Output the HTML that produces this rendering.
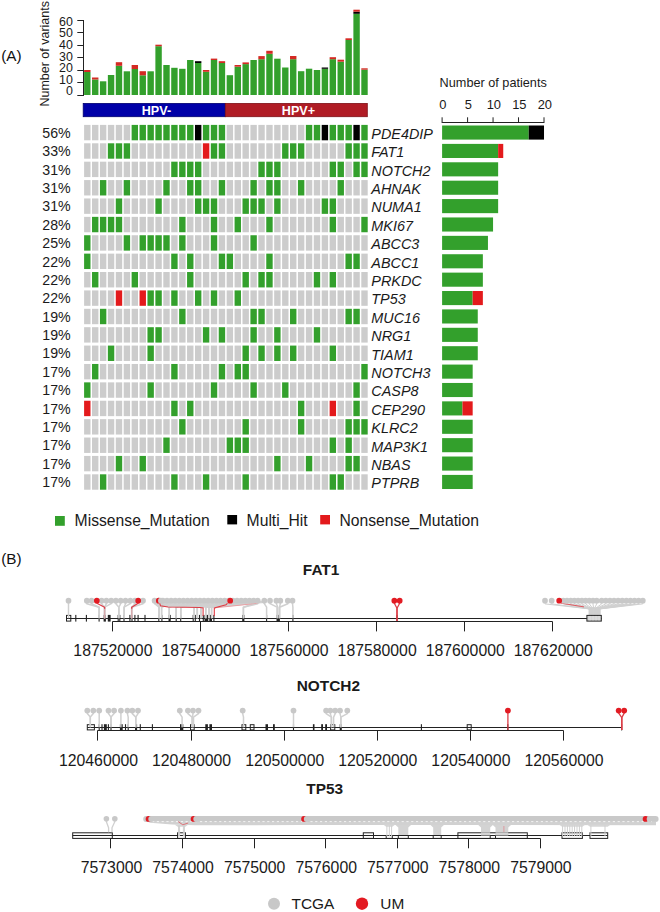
<!DOCTYPE html>
<html><head><meta charset="utf-8"><style>
html,body{margin:0;padding:0;background:#fff;}
svg{display:block;font-family:"Liberation Sans",sans-serif;}
</style></head><body>
<svg width="660" height="912" viewBox="0 0 660 912">
<rect width="660" height="912" fill="#fff"/>
<text x="1.20" y="61.40" font-size="15.3" text-anchor="start" font-weight="normal" font-style="normal" fill="#111">(A)</text>
<text x="0" y="0" font-size="12.5" fill="#1a1a1a" transform="translate(49.4,106.6) rotate(-90)">Number of variants</text>
<line x1="83.50" y1="20.00" x2="83.50" y2="96.00" stroke="#222" stroke-width="1"/>
<line x1="77.30" y1="95.50" x2="84.00" y2="95.50" stroke="#222" stroke-width="1"/>
<text x="0.00" y="0.00" font-size="12.4" text-anchor="end" font-weight="normal" font-style="normal" fill="#1a1a1a" transform="translate(72.8,95.40) scale(1,1.07)">0</text>
<line x1="77.30" y1="82.50" x2="84.00" y2="82.50" stroke="#222" stroke-width="1"/>
<text x="0.00" y="0.00" font-size="12.4" text-anchor="end" font-weight="normal" font-style="normal" fill="#1a1a1a" transform="translate(72.8,83.80) scale(1,1.07)">10</text>
<line x1="77.30" y1="70.50" x2="84.00" y2="70.50" stroke="#222" stroke-width="1"/>
<text x="0.00" y="0.00" font-size="12.4" text-anchor="end" font-weight="normal" font-style="normal" fill="#1a1a1a" transform="translate(72.8,72.20) scale(1,1.07)">20</text>
<line x1="77.30" y1="57.50" x2="84.00" y2="57.50" stroke="#222" stroke-width="1"/>
<text x="0.00" y="0.00" font-size="12.4" text-anchor="end" font-weight="normal" font-style="normal" fill="#1a1a1a" transform="translate(72.8,60.60) scale(1,1.07)">30</text>
<line x1="77.30" y1="45.50" x2="84.00" y2="45.50" stroke="#222" stroke-width="1"/>
<text x="0.00" y="0.00" font-size="12.4" text-anchor="end" font-weight="normal" font-style="normal" fill="#1a1a1a" transform="translate(72.8,49.00) scale(1,1.07)">40</text>
<line x1="77.30" y1="32.50" x2="84.00" y2="32.50" stroke="#222" stroke-width="1"/>
<text x="0.00" y="0.00" font-size="12.4" text-anchor="end" font-weight="normal" font-style="normal" fill="#1a1a1a" transform="translate(72.8,37.40) scale(1,1.07)">50</text>
<line x1="77.30" y1="20.50" x2="84.00" y2="20.50" stroke="#222" stroke-width="1"/>
<text x="0.00" y="0.00" font-size="12.4" text-anchor="end" font-weight="normal" font-style="normal" fill="#1a1a1a" transform="translate(72.8,25.80) scale(1,1.07)">60</text>
<rect x="84.10" y="72.00" width="6.40" height="23.00" fill="#33A02C"/>
<rect x="84.10" y="70.00" width="6.40" height="2.00" fill="#D42A24"/>
<rect x="92.02" y="79.50" width="6.40" height="15.50" fill="#33A02C"/>
<rect x="92.02" y="77.50" width="6.40" height="2.00" fill="#D42A24"/>
<rect x="99.94" y="81.30" width="6.40" height="13.70" fill="#33A02C"/>
<rect x="107.86" y="75.00" width="6.40" height="20.00" fill="#33A02C"/>
<rect x="115.78" y="65.80" width="6.40" height="29.20" fill="#33A02C"/>
<rect x="115.78" y="62.20" width="6.40" height="3.60" fill="#D42A24"/>
<rect x="123.70" y="71.30" width="6.40" height="23.70" fill="#33A02C"/>
<rect x="131.62" y="69.00" width="6.40" height="26.00" fill="#33A02C"/>
<rect x="131.62" y="65.00" width="6.40" height="4.00" fill="#D42A24"/>
<rect x="139.54" y="75.30" width="6.40" height="19.70" fill="#33A02C"/>
<rect x="139.54" y="71.20" width="6.40" height="4.10" fill="#D42A24"/>
<rect x="147.46" y="71.30" width="6.40" height="23.70" fill="#33A02C"/>
<rect x="155.38" y="46.20" width="6.40" height="48.80" fill="#33A02C"/>
<rect x="155.38" y="44.70" width="6.40" height="1.50" fill="#D42A24"/>
<rect x="163.30" y="65.00" width="6.40" height="30.00" fill="#33A02C"/>
<rect x="171.22" y="67.80" width="6.40" height="27.20" fill="#33A02C"/>
<rect x="179.14" y="68.80" width="6.40" height="26.20" fill="#33A02C"/>
<rect x="187.06" y="60.00" width="6.40" height="35.00" fill="#33A02C"/>
<rect x="194.98" y="63.00" width="6.40" height="32.00" fill="#33A02C"/>
<rect x="194.98" y="61.20" width="6.40" height="1.80" fill="#000000"/>
<rect x="202.90" y="71.80" width="6.40" height="23.20" fill="#33A02C"/>
<rect x="202.90" y="70.00" width="6.40" height="1.80" fill="#D42A24"/>
<rect x="210.82" y="60.00" width="6.40" height="35.00" fill="#33A02C"/>
<rect x="210.82" y="58.60" width="6.40" height="1.40" fill="#D42A24"/>
<rect x="218.74" y="63.00" width="6.40" height="32.00" fill="#33A02C"/>
<rect x="218.74" y="61.20" width="6.40" height="1.80" fill="#D42A24"/>
<rect x="226.66" y="75.20" width="6.40" height="19.80" fill="#33A02C"/>
<rect x="234.58" y="66.70" width="6.40" height="28.30" fill="#33A02C"/>
<rect x="234.58" y="65.00" width="6.40" height="1.70" fill="#D42A24"/>
<rect x="242.50" y="64.10" width="6.40" height="30.90" fill="#33A02C"/>
<rect x="242.50" y="62.40" width="6.40" height="1.70" fill="#D42A24"/>
<rect x="250.42" y="60.00" width="6.40" height="35.00" fill="#33A02C"/>
<rect x="258.34" y="59.20" width="6.40" height="35.80" fill="#33A02C"/>
<rect x="258.34" y="56.10" width="6.40" height="3.10" fill="#D42A24"/>
<rect x="266.26" y="53.80" width="6.40" height="41.20" fill="#33A02C"/>
<rect x="266.26" y="50.80" width="6.40" height="3.00" fill="#D42A24"/>
<rect x="274.18" y="58.70" width="6.40" height="36.30" fill="#33A02C"/>
<rect x="282.10" y="67.50" width="6.40" height="27.50" fill="#33A02C"/>
<rect x="290.02" y="59.20" width="6.40" height="35.80" fill="#33A02C"/>
<rect x="290.02" y="56.00" width="6.40" height="3.20" fill="#D42A24"/>
<rect x="297.94" y="71.20" width="6.40" height="23.80" fill="#33A02C"/>
<rect x="305.86" y="68.70" width="6.40" height="26.30" fill="#33A02C"/>
<rect x="313.78" y="70.00" width="6.40" height="25.00" fill="#33A02C"/>
<rect x="321.70" y="68.80" width="6.40" height="26.20" fill="#33A02C"/>
<rect x="321.70" y="67.50" width="6.40" height="1.30" fill="#000000"/>
<rect x="329.62" y="59.20" width="6.40" height="35.80" fill="#33A02C"/>
<rect x="329.62" y="57.20" width="6.40" height="2.00" fill="#D42A24"/>
<rect x="337.54" y="61.70" width="6.40" height="33.30" fill="#33A02C"/>
<rect x="337.54" y="59.70" width="6.40" height="2.00" fill="#D42A24"/>
<rect x="345.46" y="40.00" width="6.40" height="55.00" fill="#33A02C"/>
<rect x="345.46" y="38.30" width="6.40" height="1.70" fill="#D42A24"/>
<rect x="353.38" y="13.80" width="6.40" height="81.20" fill="#33A02C"/>
<rect x="353.38" y="11.70" width="6.40" height="2.10" fill="#000000"/>
<rect x="353.38" y="9.70" width="6.40" height="2.00" fill="#D42A24"/>
<rect x="361.30" y="69.70" width="6.40" height="25.30" fill="#33A02C"/>
<rect x="361.30" y="68.30" width="6.40" height="1.40" fill="#D42A24"/>
<rect x="83.20" y="103.40" width="142.10" height="13.30" fill="#0000A8" stroke="#00006E" stroke-width="0.8"/>
<rect x="225.30" y="103.40" width="142.00" height="13.30" fill="#B01C25" stroke="#7E1218" stroke-width="0.8"/>
<text x="0.00" y="0.00" font-size="12.6" text-anchor="middle" font-weight="bold" font-style="normal" fill="#ffffff" transform="translate(156.45,114.7) scale(1,1.05)">HPV-</text>
<text x="0.00" y="0.00" font-size="12.6" text-anchor="middle" font-weight="bold" font-style="normal" fill="#ffffff" transform="translate(298.40,114.7) scale(1,1.05)">HPV+</text>
<rect x="84.10" y="124.90" width="6.40" height="15.40" fill="#CCCCCC"/>
<rect x="92.02" y="124.90" width="6.40" height="15.40" fill="#CCCCCC"/>
<rect x="99.94" y="124.90" width="6.40" height="15.40" fill="#CCCCCC"/>
<rect x="107.86" y="124.90" width="6.40" height="15.40" fill="#CCCCCC"/>
<rect x="115.78" y="124.90" width="6.40" height="15.40" fill="#CCCCCC"/>
<rect x="123.70" y="124.90" width="6.40" height="15.40" fill="#CCCCCC"/>
<rect x="131.62" y="124.90" width="6.40" height="15.40" fill="#33A02C"/>
<rect x="139.54" y="124.90" width="6.40" height="15.40" fill="#33A02C"/>
<rect x="147.46" y="124.90" width="6.40" height="15.40" fill="#33A02C"/>
<rect x="155.38" y="124.90" width="6.40" height="15.40" fill="#33A02C"/>
<rect x="163.30" y="124.90" width="6.40" height="15.40" fill="#33A02C"/>
<rect x="171.22" y="124.90" width="6.40" height="15.40" fill="#33A02C"/>
<rect x="179.14" y="124.90" width="6.40" height="15.40" fill="#33A02C"/>
<rect x="187.06" y="124.90" width="6.40" height="15.40" fill="#33A02C"/>
<rect x="194.98" y="124.90" width="6.40" height="15.40" fill="#000000"/>
<rect x="202.90" y="124.90" width="6.40" height="15.40" fill="#33A02C"/>
<rect x="210.82" y="124.90" width="6.40" height="15.40" fill="#33A02C"/>
<rect x="218.74" y="124.90" width="6.40" height="15.40" fill="#33A02C"/>
<rect x="226.66" y="124.90" width="6.40" height="15.40" fill="#CCCCCC"/>
<rect x="234.58" y="124.90" width="6.40" height="15.40" fill="#CCCCCC"/>
<rect x="242.50" y="124.90" width="6.40" height="15.40" fill="#CCCCCC"/>
<rect x="250.42" y="124.90" width="6.40" height="15.40" fill="#CCCCCC"/>
<rect x="258.34" y="124.90" width="6.40" height="15.40" fill="#CCCCCC"/>
<rect x="266.26" y="124.90" width="6.40" height="15.40" fill="#CCCCCC"/>
<rect x="274.18" y="124.90" width="6.40" height="15.40" fill="#CCCCCC"/>
<rect x="282.10" y="124.90" width="6.40" height="15.40" fill="#CCCCCC"/>
<rect x="290.02" y="124.90" width="6.40" height="15.40" fill="#CCCCCC"/>
<rect x="297.94" y="124.90" width="6.40" height="15.40" fill="#CCCCCC"/>
<rect x="305.86" y="124.90" width="6.40" height="15.40" fill="#33A02C"/>
<rect x="313.78" y="124.90" width="6.40" height="15.40" fill="#33A02C"/>
<rect x="321.70" y="124.90" width="6.40" height="15.40" fill="#000000"/>
<rect x="329.62" y="124.90" width="6.40" height="15.40" fill="#33A02C"/>
<rect x="337.54" y="124.90" width="6.40" height="15.40" fill="#33A02C"/>
<rect x="345.46" y="124.90" width="6.40" height="15.40" fill="#33A02C"/>
<rect x="353.38" y="124.90" width="6.40" height="15.40" fill="#000000"/>
<rect x="361.30" y="124.90" width="6.40" height="15.40" fill="#33A02C"/>
<text x="42.30" y="137.80" font-size="14.2" text-anchor="start" font-weight="normal" font-style="normal" fill="#1a1a1a">56%</text>
<text x="371.30" y="138.90" font-size="14.4" text-anchor="start" font-weight="normal" font-style="italic" fill="#1a1a1a">PDE4DIP</text>
<rect x="84.10" y="143.29" width="6.40" height="15.40" fill="#CCCCCC"/>
<rect x="92.02" y="143.29" width="6.40" height="15.40" fill="#CCCCCC"/>
<rect x="99.94" y="143.29" width="6.40" height="15.40" fill="#CCCCCC"/>
<rect x="107.86" y="143.29" width="6.40" height="15.40" fill="#33A02C"/>
<rect x="115.78" y="143.29" width="6.40" height="15.40" fill="#33A02C"/>
<rect x="123.70" y="143.29" width="6.40" height="15.40" fill="#33A02C"/>
<rect x="131.62" y="143.29" width="6.40" height="15.40" fill="#CCCCCC"/>
<rect x="139.54" y="143.29" width="6.40" height="15.40" fill="#CCCCCC"/>
<rect x="147.46" y="143.29" width="6.40" height="15.40" fill="#CCCCCC"/>
<rect x="155.38" y="143.29" width="6.40" height="15.40" fill="#CCCCCC"/>
<rect x="163.30" y="143.29" width="6.40" height="15.40" fill="#CCCCCC"/>
<rect x="171.22" y="143.29" width="6.40" height="15.40" fill="#CCCCCC"/>
<rect x="179.14" y="143.29" width="6.40" height="15.40" fill="#CCCCCC"/>
<rect x="187.06" y="143.29" width="6.40" height="15.40" fill="#CCCCCC"/>
<rect x="194.98" y="143.29" width="6.40" height="15.40" fill="#CCCCCC"/>
<rect x="202.90" y="143.29" width="6.40" height="15.40" fill="#E31A1C"/>
<rect x="210.82" y="143.29" width="6.40" height="15.40" fill="#33A02C"/>
<rect x="218.74" y="143.29" width="6.40" height="15.40" fill="#33A02C"/>
<rect x="226.66" y="143.29" width="6.40" height="15.40" fill="#CCCCCC"/>
<rect x="234.58" y="143.29" width="6.40" height="15.40" fill="#CCCCCC"/>
<rect x="242.50" y="143.29" width="6.40" height="15.40" fill="#CCCCCC"/>
<rect x="250.42" y="143.29" width="6.40" height="15.40" fill="#CCCCCC"/>
<rect x="258.34" y="143.29" width="6.40" height="15.40" fill="#CCCCCC"/>
<rect x="266.26" y="143.29" width="6.40" height="15.40" fill="#CCCCCC"/>
<rect x="274.18" y="143.29" width="6.40" height="15.40" fill="#CCCCCC"/>
<rect x="282.10" y="143.29" width="6.40" height="15.40" fill="#33A02C"/>
<rect x="290.02" y="143.29" width="6.40" height="15.40" fill="#33A02C"/>
<rect x="297.94" y="143.29" width="6.40" height="15.40" fill="#33A02C"/>
<rect x="305.86" y="143.29" width="6.40" height="15.40" fill="#CCCCCC"/>
<rect x="313.78" y="143.29" width="6.40" height="15.40" fill="#CCCCCC"/>
<rect x="321.70" y="143.29" width="6.40" height="15.40" fill="#CCCCCC"/>
<rect x="329.62" y="143.29" width="6.40" height="15.40" fill="#CCCCCC"/>
<rect x="337.54" y="143.29" width="6.40" height="15.40" fill="#CCCCCC"/>
<rect x="345.46" y="143.29" width="6.40" height="15.40" fill="#33A02C"/>
<rect x="353.38" y="143.29" width="6.40" height="15.40" fill="#33A02C"/>
<rect x="361.30" y="143.29" width="6.40" height="15.40" fill="#33A02C"/>
<text x="42.30" y="156.19" font-size="14.2" text-anchor="start" font-weight="normal" font-style="normal" fill="#1a1a1a">33%</text>
<text x="371.30" y="157.29" font-size="14.4" text-anchor="start" font-weight="normal" font-style="italic" fill="#1a1a1a">FAT1</text>
<rect x="84.10" y="161.68" width="6.40" height="15.40" fill="#CCCCCC"/>
<rect x="92.02" y="161.68" width="6.40" height="15.40" fill="#CCCCCC"/>
<rect x="99.94" y="161.68" width="6.40" height="15.40" fill="#CCCCCC"/>
<rect x="107.86" y="161.68" width="6.40" height="15.40" fill="#CCCCCC"/>
<rect x="115.78" y="161.68" width="6.40" height="15.40" fill="#CCCCCC"/>
<rect x="123.70" y="161.68" width="6.40" height="15.40" fill="#CCCCCC"/>
<rect x="131.62" y="161.68" width="6.40" height="15.40" fill="#CCCCCC"/>
<rect x="139.54" y="161.68" width="6.40" height="15.40" fill="#CCCCCC"/>
<rect x="147.46" y="161.68" width="6.40" height="15.40" fill="#CCCCCC"/>
<rect x="155.38" y="161.68" width="6.40" height="15.40" fill="#CCCCCC"/>
<rect x="163.30" y="161.68" width="6.40" height="15.40" fill="#CCCCCC"/>
<rect x="171.22" y="161.68" width="6.40" height="15.40" fill="#33A02C"/>
<rect x="179.14" y="161.68" width="6.40" height="15.40" fill="#33A02C"/>
<rect x="187.06" y="161.68" width="6.40" height="15.40" fill="#33A02C"/>
<rect x="194.98" y="161.68" width="6.40" height="15.40" fill="#33A02C"/>
<rect x="202.90" y="161.68" width="6.40" height="15.40" fill="#CCCCCC"/>
<rect x="210.82" y="161.68" width="6.40" height="15.40" fill="#CCCCCC"/>
<rect x="218.74" y="161.68" width="6.40" height="15.40" fill="#CCCCCC"/>
<rect x="226.66" y="161.68" width="6.40" height="15.40" fill="#CCCCCC"/>
<rect x="234.58" y="161.68" width="6.40" height="15.40" fill="#CCCCCC"/>
<rect x="242.50" y="161.68" width="6.40" height="15.40" fill="#CCCCCC"/>
<rect x="250.42" y="161.68" width="6.40" height="15.40" fill="#CCCCCC"/>
<rect x="258.34" y="161.68" width="6.40" height="15.40" fill="#33A02C"/>
<rect x="266.26" y="161.68" width="6.40" height="15.40" fill="#33A02C"/>
<rect x="274.18" y="161.68" width="6.40" height="15.40" fill="#33A02C"/>
<rect x="282.10" y="161.68" width="6.40" height="15.40" fill="#CCCCCC"/>
<rect x="290.02" y="161.68" width="6.40" height="15.40" fill="#CCCCCC"/>
<rect x="297.94" y="161.68" width="6.40" height="15.40" fill="#CCCCCC"/>
<rect x="305.86" y="161.68" width="6.40" height="15.40" fill="#CCCCCC"/>
<rect x="313.78" y="161.68" width="6.40" height="15.40" fill="#CCCCCC"/>
<rect x="321.70" y="161.68" width="6.40" height="15.40" fill="#CCCCCC"/>
<rect x="329.62" y="161.68" width="6.40" height="15.40" fill="#33A02C"/>
<rect x="337.54" y="161.68" width="6.40" height="15.40" fill="#33A02C"/>
<rect x="345.46" y="161.68" width="6.40" height="15.40" fill="#CCCCCC"/>
<rect x="353.38" y="161.68" width="6.40" height="15.40" fill="#33A02C"/>
<rect x="361.30" y="161.68" width="6.40" height="15.40" fill="#33A02C"/>
<text x="42.30" y="174.58" font-size="14.2" text-anchor="start" font-weight="normal" font-style="normal" fill="#1a1a1a">31%</text>
<text x="371.30" y="175.68" font-size="14.4" text-anchor="start" font-weight="normal" font-style="italic" fill="#1a1a1a">NOTCH2</text>
<rect x="84.10" y="180.07" width="6.40" height="15.40" fill="#CCCCCC"/>
<rect x="92.02" y="180.07" width="6.40" height="15.40" fill="#CCCCCC"/>
<rect x="99.94" y="180.07" width="6.40" height="15.40" fill="#33A02C"/>
<rect x="107.86" y="180.07" width="6.40" height="15.40" fill="#CCCCCC"/>
<rect x="115.78" y="180.07" width="6.40" height="15.40" fill="#CCCCCC"/>
<rect x="123.70" y="180.07" width="6.40" height="15.40" fill="#33A02C"/>
<rect x="131.62" y="180.07" width="6.40" height="15.40" fill="#CCCCCC"/>
<rect x="139.54" y="180.07" width="6.40" height="15.40" fill="#CCCCCC"/>
<rect x="147.46" y="180.07" width="6.40" height="15.40" fill="#CCCCCC"/>
<rect x="155.38" y="180.07" width="6.40" height="15.40" fill="#CCCCCC"/>
<rect x="163.30" y="180.07" width="6.40" height="15.40" fill="#33A02C"/>
<rect x="171.22" y="180.07" width="6.40" height="15.40" fill="#CCCCCC"/>
<rect x="179.14" y="180.07" width="6.40" height="15.40" fill="#CCCCCC"/>
<rect x="187.06" y="180.07" width="6.40" height="15.40" fill="#33A02C"/>
<rect x="194.98" y="180.07" width="6.40" height="15.40" fill="#33A02C"/>
<rect x="202.90" y="180.07" width="6.40" height="15.40" fill="#CCCCCC"/>
<rect x="210.82" y="180.07" width="6.40" height="15.40" fill="#CCCCCC"/>
<rect x="218.74" y="180.07" width="6.40" height="15.40" fill="#33A02C"/>
<rect x="226.66" y="180.07" width="6.40" height="15.40" fill="#CCCCCC"/>
<rect x="234.58" y="180.07" width="6.40" height="15.40" fill="#CCCCCC"/>
<rect x="242.50" y="180.07" width="6.40" height="15.40" fill="#CCCCCC"/>
<rect x="250.42" y="180.07" width="6.40" height="15.40" fill="#33A02C"/>
<rect x="258.34" y="180.07" width="6.40" height="15.40" fill="#CCCCCC"/>
<rect x="266.26" y="180.07" width="6.40" height="15.40" fill="#33A02C"/>
<rect x="274.18" y="180.07" width="6.40" height="15.40" fill="#33A02C"/>
<rect x="282.10" y="180.07" width="6.40" height="15.40" fill="#CCCCCC"/>
<rect x="290.02" y="180.07" width="6.40" height="15.40" fill="#CCCCCC"/>
<rect x="297.94" y="180.07" width="6.40" height="15.40" fill="#33A02C"/>
<rect x="305.86" y="180.07" width="6.40" height="15.40" fill="#CCCCCC"/>
<rect x="313.78" y="180.07" width="6.40" height="15.40" fill="#CCCCCC"/>
<rect x="321.70" y="180.07" width="6.40" height="15.40" fill="#CCCCCC"/>
<rect x="329.62" y="180.07" width="6.40" height="15.40" fill="#CCCCCC"/>
<rect x="337.54" y="180.07" width="6.40" height="15.40" fill="#33A02C"/>
<rect x="345.46" y="180.07" width="6.40" height="15.40" fill="#CCCCCC"/>
<rect x="353.38" y="180.07" width="6.40" height="15.40" fill="#CCCCCC"/>
<rect x="361.30" y="180.07" width="6.40" height="15.40" fill="#CCCCCC"/>
<text x="42.30" y="192.97" font-size="14.2" text-anchor="start" font-weight="normal" font-style="normal" fill="#1a1a1a">31%</text>
<text x="371.30" y="194.07" font-size="14.4" text-anchor="start" font-weight="normal" font-style="italic" fill="#1a1a1a">AHNAK</text>
<rect x="84.10" y="198.46" width="6.40" height="15.40" fill="#CCCCCC"/>
<rect x="92.02" y="198.46" width="6.40" height="15.40" fill="#CCCCCC"/>
<rect x="99.94" y="198.46" width="6.40" height="15.40" fill="#CCCCCC"/>
<rect x="107.86" y="198.46" width="6.40" height="15.40" fill="#CCCCCC"/>
<rect x="115.78" y="198.46" width="6.40" height="15.40" fill="#33A02C"/>
<rect x="123.70" y="198.46" width="6.40" height="15.40" fill="#CCCCCC"/>
<rect x="131.62" y="198.46" width="6.40" height="15.40" fill="#CCCCCC"/>
<rect x="139.54" y="198.46" width="6.40" height="15.40" fill="#CCCCCC"/>
<rect x="147.46" y="198.46" width="6.40" height="15.40" fill="#CCCCCC"/>
<rect x="155.38" y="198.46" width="6.40" height="15.40" fill="#33A02C"/>
<rect x="163.30" y="198.46" width="6.40" height="15.40" fill="#CCCCCC"/>
<rect x="171.22" y="198.46" width="6.40" height="15.40" fill="#CCCCCC"/>
<rect x="179.14" y="198.46" width="6.40" height="15.40" fill="#CCCCCC"/>
<rect x="187.06" y="198.46" width="6.40" height="15.40" fill="#CCCCCC"/>
<rect x="194.98" y="198.46" width="6.40" height="15.40" fill="#33A02C"/>
<rect x="202.90" y="198.46" width="6.40" height="15.40" fill="#33A02C"/>
<rect x="210.82" y="198.46" width="6.40" height="15.40" fill="#33A02C"/>
<rect x="218.74" y="198.46" width="6.40" height="15.40" fill="#CCCCCC"/>
<rect x="226.66" y="198.46" width="6.40" height="15.40" fill="#CCCCCC"/>
<rect x="234.58" y="198.46" width="6.40" height="15.40" fill="#CCCCCC"/>
<rect x="242.50" y="198.46" width="6.40" height="15.40" fill="#33A02C"/>
<rect x="250.42" y="198.46" width="6.40" height="15.40" fill="#33A02C"/>
<rect x="258.34" y="198.46" width="6.40" height="15.40" fill="#33A02C"/>
<rect x="266.26" y="198.46" width="6.40" height="15.40" fill="#CCCCCC"/>
<rect x="274.18" y="198.46" width="6.40" height="15.40" fill="#33A02C"/>
<rect x="282.10" y="198.46" width="6.40" height="15.40" fill="#CCCCCC"/>
<rect x="290.02" y="198.46" width="6.40" height="15.40" fill="#CCCCCC"/>
<rect x="297.94" y="198.46" width="6.40" height="15.40" fill="#CCCCCC"/>
<rect x="305.86" y="198.46" width="6.40" height="15.40" fill="#CCCCCC"/>
<rect x="313.78" y="198.46" width="6.40" height="15.40" fill="#CCCCCC"/>
<rect x="321.70" y="198.46" width="6.40" height="15.40" fill="#33A02C"/>
<rect x="329.62" y="198.46" width="6.40" height="15.40" fill="#33A02C"/>
<rect x="337.54" y="198.46" width="6.40" height="15.40" fill="#CCCCCC"/>
<rect x="345.46" y="198.46" width="6.40" height="15.40" fill="#CCCCCC"/>
<rect x="353.38" y="198.46" width="6.40" height="15.40" fill="#CCCCCC"/>
<rect x="361.30" y="198.46" width="6.40" height="15.40" fill="#CCCCCC"/>
<text x="42.30" y="211.36" font-size="14.2" text-anchor="start" font-weight="normal" font-style="normal" fill="#1a1a1a">31%</text>
<text x="371.30" y="212.46" font-size="14.4" text-anchor="start" font-weight="normal" font-style="italic" fill="#1a1a1a">NUMA1</text>
<rect x="84.10" y="216.85" width="6.40" height="15.40" fill="#CCCCCC"/>
<rect x="92.02" y="216.85" width="6.40" height="15.40" fill="#33A02C"/>
<rect x="99.94" y="216.85" width="6.40" height="15.40" fill="#33A02C"/>
<rect x="107.86" y="216.85" width="6.40" height="15.40" fill="#33A02C"/>
<rect x="115.78" y="216.85" width="6.40" height="15.40" fill="#33A02C"/>
<rect x="123.70" y="216.85" width="6.40" height="15.40" fill="#CCCCCC"/>
<rect x="131.62" y="216.85" width="6.40" height="15.40" fill="#CCCCCC"/>
<rect x="139.54" y="216.85" width="6.40" height="15.40" fill="#CCCCCC"/>
<rect x="147.46" y="216.85" width="6.40" height="15.40" fill="#CCCCCC"/>
<rect x="155.38" y="216.85" width="6.40" height="15.40" fill="#CCCCCC"/>
<rect x="163.30" y="216.85" width="6.40" height="15.40" fill="#CCCCCC"/>
<rect x="171.22" y="216.85" width="6.40" height="15.40" fill="#CCCCCC"/>
<rect x="179.14" y="216.85" width="6.40" height="15.40" fill="#33A02C"/>
<rect x="187.06" y="216.85" width="6.40" height="15.40" fill="#CCCCCC"/>
<rect x="194.98" y="216.85" width="6.40" height="15.40" fill="#CCCCCC"/>
<rect x="202.90" y="216.85" width="6.40" height="15.40" fill="#CCCCCC"/>
<rect x="210.82" y="216.85" width="6.40" height="15.40" fill="#33A02C"/>
<rect x="218.74" y="216.85" width="6.40" height="15.40" fill="#CCCCCC"/>
<rect x="226.66" y="216.85" width="6.40" height="15.40" fill="#CCCCCC"/>
<rect x="234.58" y="216.85" width="6.40" height="15.40" fill="#33A02C"/>
<rect x="242.50" y="216.85" width="6.40" height="15.40" fill="#CCCCCC"/>
<rect x="250.42" y="216.85" width="6.40" height="15.40" fill="#CCCCCC"/>
<rect x="258.34" y="216.85" width="6.40" height="15.40" fill="#CCCCCC"/>
<rect x="266.26" y="216.85" width="6.40" height="15.40" fill="#33A02C"/>
<rect x="274.18" y="216.85" width="6.40" height="15.40" fill="#CCCCCC"/>
<rect x="282.10" y="216.85" width="6.40" height="15.40" fill="#CCCCCC"/>
<rect x="290.02" y="216.85" width="6.40" height="15.40" fill="#CCCCCC"/>
<rect x="297.94" y="216.85" width="6.40" height="15.40" fill="#CCCCCC"/>
<rect x="305.86" y="216.85" width="6.40" height="15.40" fill="#CCCCCC"/>
<rect x="313.78" y="216.85" width="6.40" height="15.40" fill="#CCCCCC"/>
<rect x="321.70" y="216.85" width="6.40" height="15.40" fill="#CCCCCC"/>
<rect x="329.62" y="216.85" width="6.40" height="15.40" fill="#33A02C"/>
<rect x="337.54" y="216.85" width="6.40" height="15.40" fill="#CCCCCC"/>
<rect x="345.46" y="216.85" width="6.40" height="15.40" fill="#CCCCCC"/>
<rect x="353.38" y="216.85" width="6.40" height="15.40" fill="#CCCCCC"/>
<rect x="361.30" y="216.85" width="6.40" height="15.40" fill="#33A02C"/>
<text x="42.30" y="229.75" font-size="14.2" text-anchor="start" font-weight="normal" font-style="normal" fill="#1a1a1a">28%</text>
<text x="371.30" y="230.85" font-size="14.4" text-anchor="start" font-weight="normal" font-style="italic" fill="#1a1a1a">MKI67</text>
<rect x="84.10" y="235.24" width="6.40" height="15.40" fill="#33A02C"/>
<rect x="92.02" y="235.24" width="6.40" height="15.40" fill="#CCCCCC"/>
<rect x="99.94" y="235.24" width="6.40" height="15.40" fill="#CCCCCC"/>
<rect x="107.86" y="235.24" width="6.40" height="15.40" fill="#CCCCCC"/>
<rect x="115.78" y="235.24" width="6.40" height="15.40" fill="#CCCCCC"/>
<rect x="123.70" y="235.24" width="6.40" height="15.40" fill="#33A02C"/>
<rect x="131.62" y="235.24" width="6.40" height="15.40" fill="#CCCCCC"/>
<rect x="139.54" y="235.24" width="6.40" height="15.40" fill="#33A02C"/>
<rect x="147.46" y="235.24" width="6.40" height="15.40" fill="#33A02C"/>
<rect x="155.38" y="235.24" width="6.40" height="15.40" fill="#33A02C"/>
<rect x="163.30" y="235.24" width="6.40" height="15.40" fill="#33A02C"/>
<rect x="171.22" y="235.24" width="6.40" height="15.40" fill="#CCCCCC"/>
<rect x="179.14" y="235.24" width="6.40" height="15.40" fill="#33A02C"/>
<rect x="187.06" y="235.24" width="6.40" height="15.40" fill="#CCCCCC"/>
<rect x="194.98" y="235.24" width="6.40" height="15.40" fill="#CCCCCC"/>
<rect x="202.90" y="235.24" width="6.40" height="15.40" fill="#CCCCCC"/>
<rect x="210.82" y="235.24" width="6.40" height="15.40" fill="#33A02C"/>
<rect x="218.74" y="235.24" width="6.40" height="15.40" fill="#CCCCCC"/>
<rect x="226.66" y="235.24" width="6.40" height="15.40" fill="#CCCCCC"/>
<rect x="234.58" y="235.24" width="6.40" height="15.40" fill="#CCCCCC"/>
<rect x="242.50" y="235.24" width="6.40" height="15.40" fill="#CCCCCC"/>
<rect x="250.42" y="235.24" width="6.40" height="15.40" fill="#33A02C"/>
<rect x="258.34" y="235.24" width="6.40" height="15.40" fill="#CCCCCC"/>
<rect x="266.26" y="235.24" width="6.40" height="15.40" fill="#CCCCCC"/>
<rect x="274.18" y="235.24" width="6.40" height="15.40" fill="#CCCCCC"/>
<rect x="282.10" y="235.24" width="6.40" height="15.40" fill="#CCCCCC"/>
<rect x="290.02" y="235.24" width="6.40" height="15.40" fill="#CCCCCC"/>
<rect x="297.94" y="235.24" width="6.40" height="15.40" fill="#CCCCCC"/>
<rect x="305.86" y="235.24" width="6.40" height="15.40" fill="#CCCCCC"/>
<rect x="313.78" y="235.24" width="6.40" height="15.40" fill="#CCCCCC"/>
<rect x="321.70" y="235.24" width="6.40" height="15.40" fill="#CCCCCC"/>
<rect x="329.62" y="235.24" width="6.40" height="15.40" fill="#CCCCCC"/>
<rect x="337.54" y="235.24" width="6.40" height="15.40" fill="#CCCCCC"/>
<rect x="345.46" y="235.24" width="6.40" height="15.40" fill="#CCCCCC"/>
<rect x="353.38" y="235.24" width="6.40" height="15.40" fill="#CCCCCC"/>
<rect x="361.30" y="235.24" width="6.40" height="15.40" fill="#CCCCCC"/>
<text x="42.30" y="248.14" font-size="14.2" text-anchor="start" font-weight="normal" font-style="normal" fill="#1a1a1a">25%</text>
<text x="371.30" y="249.24" font-size="14.4" text-anchor="start" font-weight="normal" font-style="italic" fill="#1a1a1a">ABCC3</text>
<rect x="84.10" y="253.63" width="6.40" height="15.40" fill="#33A02C"/>
<rect x="92.02" y="253.63" width="6.40" height="15.40" fill="#CCCCCC"/>
<rect x="99.94" y="253.63" width="6.40" height="15.40" fill="#CCCCCC"/>
<rect x="107.86" y="253.63" width="6.40" height="15.40" fill="#CCCCCC"/>
<rect x="115.78" y="253.63" width="6.40" height="15.40" fill="#CCCCCC"/>
<rect x="123.70" y="253.63" width="6.40" height="15.40" fill="#CCCCCC"/>
<rect x="131.62" y="253.63" width="6.40" height="15.40" fill="#CCCCCC"/>
<rect x="139.54" y="253.63" width="6.40" height="15.40" fill="#CCCCCC"/>
<rect x="147.46" y="253.63" width="6.40" height="15.40" fill="#CCCCCC"/>
<rect x="155.38" y="253.63" width="6.40" height="15.40" fill="#CCCCCC"/>
<rect x="163.30" y="253.63" width="6.40" height="15.40" fill="#CCCCCC"/>
<rect x="171.22" y="253.63" width="6.40" height="15.40" fill="#33A02C"/>
<rect x="179.14" y="253.63" width="6.40" height="15.40" fill="#CCCCCC"/>
<rect x="187.06" y="253.63" width="6.40" height="15.40" fill="#33A02C"/>
<rect x="194.98" y="253.63" width="6.40" height="15.40" fill="#CCCCCC"/>
<rect x="202.90" y="253.63" width="6.40" height="15.40" fill="#CCCCCC"/>
<rect x="210.82" y="253.63" width="6.40" height="15.40" fill="#CCCCCC"/>
<rect x="218.74" y="253.63" width="6.40" height="15.40" fill="#33A02C"/>
<rect x="226.66" y="253.63" width="6.40" height="15.40" fill="#33A02C"/>
<rect x="234.58" y="253.63" width="6.40" height="15.40" fill="#CCCCCC"/>
<rect x="242.50" y="253.63" width="6.40" height="15.40" fill="#CCCCCC"/>
<rect x="250.42" y="253.63" width="6.40" height="15.40" fill="#CCCCCC"/>
<rect x="258.34" y="253.63" width="6.40" height="15.40" fill="#CCCCCC"/>
<rect x="266.26" y="253.63" width="6.40" height="15.40" fill="#33A02C"/>
<rect x="274.18" y="253.63" width="6.40" height="15.40" fill="#CCCCCC"/>
<rect x="282.10" y="253.63" width="6.40" height="15.40" fill="#CCCCCC"/>
<rect x="290.02" y="253.63" width="6.40" height="15.40" fill="#CCCCCC"/>
<rect x="297.94" y="253.63" width="6.40" height="15.40" fill="#CCCCCC"/>
<rect x="305.86" y="253.63" width="6.40" height="15.40" fill="#CCCCCC"/>
<rect x="313.78" y="253.63" width="6.40" height="15.40" fill="#CCCCCC"/>
<rect x="321.70" y="253.63" width="6.40" height="15.40" fill="#CCCCCC"/>
<rect x="329.62" y="253.63" width="6.40" height="15.40" fill="#CCCCCC"/>
<rect x="337.54" y="253.63" width="6.40" height="15.40" fill="#CCCCCC"/>
<rect x="345.46" y="253.63" width="6.40" height="15.40" fill="#33A02C"/>
<rect x="353.38" y="253.63" width="6.40" height="15.40" fill="#33A02C"/>
<rect x="361.30" y="253.63" width="6.40" height="15.40" fill="#CCCCCC"/>
<text x="42.30" y="266.53" font-size="14.2" text-anchor="start" font-weight="normal" font-style="normal" fill="#1a1a1a">22%</text>
<text x="371.30" y="267.63" font-size="14.4" text-anchor="start" font-weight="normal" font-style="italic" fill="#1a1a1a">ABCC1</text>
<rect x="84.10" y="272.02" width="6.40" height="15.40" fill="#CCCCCC"/>
<rect x="92.02" y="272.02" width="6.40" height="15.40" fill="#33A02C"/>
<rect x="99.94" y="272.02" width="6.40" height="15.40" fill="#CCCCCC"/>
<rect x="107.86" y="272.02" width="6.40" height="15.40" fill="#CCCCCC"/>
<rect x="115.78" y="272.02" width="6.40" height="15.40" fill="#CCCCCC"/>
<rect x="123.70" y="272.02" width="6.40" height="15.40" fill="#CCCCCC"/>
<rect x="131.62" y="272.02" width="6.40" height="15.40" fill="#33A02C"/>
<rect x="139.54" y="272.02" width="6.40" height="15.40" fill="#CCCCCC"/>
<rect x="147.46" y="272.02" width="6.40" height="15.40" fill="#CCCCCC"/>
<rect x="155.38" y="272.02" width="6.40" height="15.40" fill="#CCCCCC"/>
<rect x="163.30" y="272.02" width="6.40" height="15.40" fill="#CCCCCC"/>
<rect x="171.22" y="272.02" width="6.40" height="15.40" fill="#CCCCCC"/>
<rect x="179.14" y="272.02" width="6.40" height="15.40" fill="#CCCCCC"/>
<rect x="187.06" y="272.02" width="6.40" height="15.40" fill="#33A02C"/>
<rect x="194.98" y="272.02" width="6.40" height="15.40" fill="#CCCCCC"/>
<rect x="202.90" y="272.02" width="6.40" height="15.40" fill="#CCCCCC"/>
<rect x="210.82" y="272.02" width="6.40" height="15.40" fill="#CCCCCC"/>
<rect x="218.74" y="272.02" width="6.40" height="15.40" fill="#CCCCCC"/>
<rect x="226.66" y="272.02" width="6.40" height="15.40" fill="#CCCCCC"/>
<rect x="234.58" y="272.02" width="6.40" height="15.40" fill="#CCCCCC"/>
<rect x="242.50" y="272.02" width="6.40" height="15.40" fill="#33A02C"/>
<rect x="250.42" y="272.02" width="6.40" height="15.40" fill="#CCCCCC"/>
<rect x="258.34" y="272.02" width="6.40" height="15.40" fill="#33A02C"/>
<rect x="266.26" y="272.02" width="6.40" height="15.40" fill="#33A02C"/>
<rect x="274.18" y="272.02" width="6.40" height="15.40" fill="#CCCCCC"/>
<rect x="282.10" y="272.02" width="6.40" height="15.40" fill="#CCCCCC"/>
<rect x="290.02" y="272.02" width="6.40" height="15.40" fill="#CCCCCC"/>
<rect x="297.94" y="272.02" width="6.40" height="15.40" fill="#CCCCCC"/>
<rect x="305.86" y="272.02" width="6.40" height="15.40" fill="#CCCCCC"/>
<rect x="313.78" y="272.02" width="6.40" height="15.40" fill="#33A02C"/>
<rect x="321.70" y="272.02" width="6.40" height="15.40" fill="#CCCCCC"/>
<rect x="329.62" y="272.02" width="6.40" height="15.40" fill="#33A02C"/>
<rect x="337.54" y="272.02" width="6.40" height="15.40" fill="#CCCCCC"/>
<rect x="345.46" y="272.02" width="6.40" height="15.40" fill="#CCCCCC"/>
<rect x="353.38" y="272.02" width="6.40" height="15.40" fill="#CCCCCC"/>
<rect x="361.30" y="272.02" width="6.40" height="15.40" fill="#CCCCCC"/>
<text x="42.30" y="284.92" font-size="14.2" text-anchor="start" font-weight="normal" font-style="normal" fill="#1a1a1a">22%</text>
<text x="371.30" y="286.02" font-size="14.4" text-anchor="start" font-weight="normal" font-style="italic" fill="#1a1a1a">PRKDC</text>
<rect x="84.10" y="290.41" width="6.40" height="15.40" fill="#CCCCCC"/>
<rect x="92.02" y="290.41" width="6.40" height="15.40" fill="#CCCCCC"/>
<rect x="99.94" y="290.41" width="6.40" height="15.40" fill="#CCCCCC"/>
<rect x="107.86" y="290.41" width="6.40" height="15.40" fill="#CCCCCC"/>
<rect x="115.78" y="290.41" width="6.40" height="15.40" fill="#E31A1C"/>
<rect x="123.70" y="290.41" width="6.40" height="15.40" fill="#CCCCCC"/>
<rect x="131.62" y="290.41" width="6.40" height="15.40" fill="#CCCCCC"/>
<rect x="139.54" y="290.41" width="6.40" height="15.40" fill="#E31A1C"/>
<rect x="147.46" y="290.41" width="6.40" height="15.40" fill="#33A02C"/>
<rect x="155.38" y="290.41" width="6.40" height="15.40" fill="#33A02C"/>
<rect x="163.30" y="290.41" width="6.40" height="15.40" fill="#CCCCCC"/>
<rect x="171.22" y="290.41" width="6.40" height="15.40" fill="#33A02C"/>
<rect x="179.14" y="290.41" width="6.40" height="15.40" fill="#CCCCCC"/>
<rect x="187.06" y="290.41" width="6.40" height="15.40" fill="#CCCCCC"/>
<rect x="194.98" y="290.41" width="6.40" height="15.40" fill="#33A02C"/>
<rect x="202.90" y="290.41" width="6.40" height="15.40" fill="#CCCCCC"/>
<rect x="210.82" y="290.41" width="6.40" height="15.40" fill="#33A02C"/>
<rect x="218.74" y="290.41" width="6.40" height="15.40" fill="#CCCCCC"/>
<rect x="226.66" y="290.41" width="6.40" height="15.40" fill="#CCCCCC"/>
<rect x="234.58" y="290.41" width="6.40" height="15.40" fill="#33A02C"/>
<rect x="242.50" y="290.41" width="6.40" height="15.40" fill="#CCCCCC"/>
<rect x="250.42" y="290.41" width="6.40" height="15.40" fill="#CCCCCC"/>
<rect x="258.34" y="290.41" width="6.40" height="15.40" fill="#CCCCCC"/>
<rect x="266.26" y="290.41" width="6.40" height="15.40" fill="#CCCCCC"/>
<rect x="274.18" y="290.41" width="6.40" height="15.40" fill="#CCCCCC"/>
<rect x="282.10" y="290.41" width="6.40" height="15.40" fill="#CCCCCC"/>
<rect x="290.02" y="290.41" width="6.40" height="15.40" fill="#CCCCCC"/>
<rect x="297.94" y="290.41" width="6.40" height="15.40" fill="#CCCCCC"/>
<rect x="305.86" y="290.41" width="6.40" height="15.40" fill="#CCCCCC"/>
<rect x="313.78" y="290.41" width="6.40" height="15.40" fill="#CCCCCC"/>
<rect x="321.70" y="290.41" width="6.40" height="15.40" fill="#CCCCCC"/>
<rect x="329.62" y="290.41" width="6.40" height="15.40" fill="#CCCCCC"/>
<rect x="337.54" y="290.41" width="6.40" height="15.40" fill="#CCCCCC"/>
<rect x="345.46" y="290.41" width="6.40" height="15.40" fill="#CCCCCC"/>
<rect x="353.38" y="290.41" width="6.40" height="15.40" fill="#CCCCCC"/>
<rect x="361.30" y="290.41" width="6.40" height="15.40" fill="#CCCCCC"/>
<text x="42.30" y="303.31" font-size="14.2" text-anchor="start" font-weight="normal" font-style="normal" fill="#1a1a1a">22%</text>
<text x="371.30" y="304.41" font-size="14.4" text-anchor="start" font-weight="normal" font-style="italic" fill="#1a1a1a">TP53</text>
<rect x="84.10" y="308.80" width="6.40" height="15.40" fill="#CCCCCC"/>
<rect x="92.02" y="308.80" width="6.40" height="15.40" fill="#CCCCCC"/>
<rect x="99.94" y="308.80" width="6.40" height="15.40" fill="#33A02C"/>
<rect x="107.86" y="308.80" width="6.40" height="15.40" fill="#CCCCCC"/>
<rect x="115.78" y="308.80" width="6.40" height="15.40" fill="#CCCCCC"/>
<rect x="123.70" y="308.80" width="6.40" height="15.40" fill="#CCCCCC"/>
<rect x="131.62" y="308.80" width="6.40" height="15.40" fill="#CCCCCC"/>
<rect x="139.54" y="308.80" width="6.40" height="15.40" fill="#CCCCCC"/>
<rect x="147.46" y="308.80" width="6.40" height="15.40" fill="#CCCCCC"/>
<rect x="155.38" y="308.80" width="6.40" height="15.40" fill="#CCCCCC"/>
<rect x="163.30" y="308.80" width="6.40" height="15.40" fill="#CCCCCC"/>
<rect x="171.22" y="308.80" width="6.40" height="15.40" fill="#CCCCCC"/>
<rect x="179.14" y="308.80" width="6.40" height="15.40" fill="#33A02C"/>
<rect x="187.06" y="308.80" width="6.40" height="15.40" fill="#CCCCCC"/>
<rect x="194.98" y="308.80" width="6.40" height="15.40" fill="#CCCCCC"/>
<rect x="202.90" y="308.80" width="6.40" height="15.40" fill="#CCCCCC"/>
<rect x="210.82" y="308.80" width="6.40" height="15.40" fill="#CCCCCC"/>
<rect x="218.74" y="308.80" width="6.40" height="15.40" fill="#CCCCCC"/>
<rect x="226.66" y="308.80" width="6.40" height="15.40" fill="#CCCCCC"/>
<rect x="234.58" y="308.80" width="6.40" height="15.40" fill="#CCCCCC"/>
<rect x="242.50" y="308.80" width="6.40" height="15.40" fill="#CCCCCC"/>
<rect x="250.42" y="308.80" width="6.40" height="15.40" fill="#33A02C"/>
<rect x="258.34" y="308.80" width="6.40" height="15.40" fill="#33A02C"/>
<rect x="266.26" y="308.80" width="6.40" height="15.40" fill="#CCCCCC"/>
<rect x="274.18" y="308.80" width="6.40" height="15.40" fill="#CCCCCC"/>
<rect x="282.10" y="308.80" width="6.40" height="15.40" fill="#CCCCCC"/>
<rect x="290.02" y="308.80" width="6.40" height="15.40" fill="#33A02C"/>
<rect x="297.94" y="308.80" width="6.40" height="15.40" fill="#CCCCCC"/>
<rect x="305.86" y="308.80" width="6.40" height="15.40" fill="#CCCCCC"/>
<rect x="313.78" y="308.80" width="6.40" height="15.40" fill="#CCCCCC"/>
<rect x="321.70" y="308.80" width="6.40" height="15.40" fill="#CCCCCC"/>
<rect x="329.62" y="308.80" width="6.40" height="15.40" fill="#CCCCCC"/>
<rect x="337.54" y="308.80" width="6.40" height="15.40" fill="#CCCCCC"/>
<rect x="345.46" y="308.80" width="6.40" height="15.40" fill="#33A02C"/>
<rect x="353.38" y="308.80" width="6.40" height="15.40" fill="#33A02C"/>
<rect x="361.30" y="308.80" width="6.40" height="15.40" fill="#CCCCCC"/>
<text x="42.30" y="321.70" font-size="14.2" text-anchor="start" font-weight="normal" font-style="normal" fill="#1a1a1a">19%</text>
<text x="371.30" y="322.80" font-size="14.4" text-anchor="start" font-weight="normal" font-style="italic" fill="#1a1a1a">MUC16</text>
<rect x="84.10" y="327.19" width="6.40" height="15.40" fill="#CCCCCC"/>
<rect x="92.02" y="327.19" width="6.40" height="15.40" fill="#CCCCCC"/>
<rect x="99.94" y="327.19" width="6.40" height="15.40" fill="#CCCCCC"/>
<rect x="107.86" y="327.19" width="6.40" height="15.40" fill="#CCCCCC"/>
<rect x="115.78" y="327.19" width="6.40" height="15.40" fill="#CCCCCC"/>
<rect x="123.70" y="327.19" width="6.40" height="15.40" fill="#CCCCCC"/>
<rect x="131.62" y="327.19" width="6.40" height="15.40" fill="#CCCCCC"/>
<rect x="139.54" y="327.19" width="6.40" height="15.40" fill="#CCCCCC"/>
<rect x="147.46" y="327.19" width="6.40" height="15.40" fill="#33A02C"/>
<rect x="155.38" y="327.19" width="6.40" height="15.40" fill="#33A02C"/>
<rect x="163.30" y="327.19" width="6.40" height="15.40" fill="#CCCCCC"/>
<rect x="171.22" y="327.19" width="6.40" height="15.40" fill="#CCCCCC"/>
<rect x="179.14" y="327.19" width="6.40" height="15.40" fill="#CCCCCC"/>
<rect x="187.06" y="327.19" width="6.40" height="15.40" fill="#CCCCCC"/>
<rect x="194.98" y="327.19" width="6.40" height="15.40" fill="#CCCCCC"/>
<rect x="202.90" y="327.19" width="6.40" height="15.40" fill="#33A02C"/>
<rect x="210.82" y="327.19" width="6.40" height="15.40" fill="#CCCCCC"/>
<rect x="218.74" y="327.19" width="6.40" height="15.40" fill="#33A02C"/>
<rect x="226.66" y="327.19" width="6.40" height="15.40" fill="#CCCCCC"/>
<rect x="234.58" y="327.19" width="6.40" height="15.40" fill="#CCCCCC"/>
<rect x="242.50" y="327.19" width="6.40" height="15.40" fill="#CCCCCC"/>
<rect x="250.42" y="327.19" width="6.40" height="15.40" fill="#33A02C"/>
<rect x="258.34" y="327.19" width="6.40" height="15.40" fill="#CCCCCC"/>
<rect x="266.26" y="327.19" width="6.40" height="15.40" fill="#CCCCCC"/>
<rect x="274.18" y="327.19" width="6.40" height="15.40" fill="#33A02C"/>
<rect x="282.10" y="327.19" width="6.40" height="15.40" fill="#CCCCCC"/>
<rect x="290.02" y="327.19" width="6.40" height="15.40" fill="#CCCCCC"/>
<rect x="297.94" y="327.19" width="6.40" height="15.40" fill="#CCCCCC"/>
<rect x="305.86" y="327.19" width="6.40" height="15.40" fill="#CCCCCC"/>
<rect x="313.78" y="327.19" width="6.40" height="15.40" fill="#33A02C"/>
<rect x="321.70" y="327.19" width="6.40" height="15.40" fill="#CCCCCC"/>
<rect x="329.62" y="327.19" width="6.40" height="15.40" fill="#CCCCCC"/>
<rect x="337.54" y="327.19" width="6.40" height="15.40" fill="#CCCCCC"/>
<rect x="345.46" y="327.19" width="6.40" height="15.40" fill="#CCCCCC"/>
<rect x="353.38" y="327.19" width="6.40" height="15.40" fill="#CCCCCC"/>
<rect x="361.30" y="327.19" width="6.40" height="15.40" fill="#CCCCCC"/>
<text x="42.30" y="340.09" font-size="14.2" text-anchor="start" font-weight="normal" font-style="normal" fill="#1a1a1a">19%</text>
<text x="371.30" y="341.19" font-size="14.4" text-anchor="start" font-weight="normal" font-style="italic" fill="#1a1a1a">NRG1</text>
<rect x="84.10" y="345.58" width="6.40" height="15.40" fill="#CCCCCC"/>
<rect x="92.02" y="345.58" width="6.40" height="15.40" fill="#CCCCCC"/>
<rect x="99.94" y="345.58" width="6.40" height="15.40" fill="#CCCCCC"/>
<rect x="107.86" y="345.58" width="6.40" height="15.40" fill="#33A02C"/>
<rect x="115.78" y="345.58" width="6.40" height="15.40" fill="#CCCCCC"/>
<rect x="123.70" y="345.58" width="6.40" height="15.40" fill="#CCCCCC"/>
<rect x="131.62" y="345.58" width="6.40" height="15.40" fill="#CCCCCC"/>
<rect x="139.54" y="345.58" width="6.40" height="15.40" fill="#CCCCCC"/>
<rect x="147.46" y="345.58" width="6.40" height="15.40" fill="#33A02C"/>
<rect x="155.38" y="345.58" width="6.40" height="15.40" fill="#CCCCCC"/>
<rect x="163.30" y="345.58" width="6.40" height="15.40" fill="#CCCCCC"/>
<rect x="171.22" y="345.58" width="6.40" height="15.40" fill="#CCCCCC"/>
<rect x="179.14" y="345.58" width="6.40" height="15.40" fill="#CCCCCC"/>
<rect x="187.06" y="345.58" width="6.40" height="15.40" fill="#CCCCCC"/>
<rect x="194.98" y="345.58" width="6.40" height="15.40" fill="#CCCCCC"/>
<rect x="202.90" y="345.58" width="6.40" height="15.40" fill="#CCCCCC"/>
<rect x="210.82" y="345.58" width="6.40" height="15.40" fill="#CCCCCC"/>
<rect x="218.74" y="345.58" width="6.40" height="15.40" fill="#CCCCCC"/>
<rect x="226.66" y="345.58" width="6.40" height="15.40" fill="#CCCCCC"/>
<rect x="234.58" y="345.58" width="6.40" height="15.40" fill="#CCCCCC"/>
<rect x="242.50" y="345.58" width="6.40" height="15.40" fill="#33A02C"/>
<rect x="250.42" y="345.58" width="6.40" height="15.40" fill="#CCCCCC"/>
<rect x="258.34" y="345.58" width="6.40" height="15.40" fill="#33A02C"/>
<rect x="266.26" y="345.58" width="6.40" height="15.40" fill="#CCCCCC"/>
<rect x="274.18" y="345.58" width="6.40" height="15.40" fill="#33A02C"/>
<rect x="282.10" y="345.58" width="6.40" height="15.40" fill="#CCCCCC"/>
<rect x="290.02" y="345.58" width="6.40" height="15.40" fill="#33A02C"/>
<rect x="297.94" y="345.58" width="6.40" height="15.40" fill="#CCCCCC"/>
<rect x="305.86" y="345.58" width="6.40" height="15.40" fill="#CCCCCC"/>
<rect x="313.78" y="345.58" width="6.40" height="15.40" fill="#CCCCCC"/>
<rect x="321.70" y="345.58" width="6.40" height="15.40" fill="#CCCCCC"/>
<rect x="329.62" y="345.58" width="6.40" height="15.40" fill="#33A02C"/>
<rect x="337.54" y="345.58" width="6.40" height="15.40" fill="#CCCCCC"/>
<rect x="345.46" y="345.58" width="6.40" height="15.40" fill="#CCCCCC"/>
<rect x="353.38" y="345.58" width="6.40" height="15.40" fill="#CCCCCC"/>
<rect x="361.30" y="345.58" width="6.40" height="15.40" fill="#CCCCCC"/>
<text x="42.30" y="358.48" font-size="14.2" text-anchor="start" font-weight="normal" font-style="normal" fill="#1a1a1a">19%</text>
<text x="371.30" y="359.58" font-size="14.4" text-anchor="start" font-weight="normal" font-style="italic" fill="#1a1a1a">TIAM1</text>
<rect x="84.10" y="363.97" width="6.40" height="15.40" fill="#CCCCCC"/>
<rect x="92.02" y="363.97" width="6.40" height="15.40" fill="#33A02C"/>
<rect x="99.94" y="363.97" width="6.40" height="15.40" fill="#CCCCCC"/>
<rect x="107.86" y="363.97" width="6.40" height="15.40" fill="#CCCCCC"/>
<rect x="115.78" y="363.97" width="6.40" height="15.40" fill="#CCCCCC"/>
<rect x="123.70" y="363.97" width="6.40" height="15.40" fill="#CCCCCC"/>
<rect x="131.62" y="363.97" width="6.40" height="15.40" fill="#CCCCCC"/>
<rect x="139.54" y="363.97" width="6.40" height="15.40" fill="#CCCCCC"/>
<rect x="147.46" y="363.97" width="6.40" height="15.40" fill="#CCCCCC"/>
<rect x="155.38" y="363.97" width="6.40" height="15.40" fill="#CCCCCC"/>
<rect x="163.30" y="363.97" width="6.40" height="15.40" fill="#CCCCCC"/>
<rect x="171.22" y="363.97" width="6.40" height="15.40" fill="#33A02C"/>
<rect x="179.14" y="363.97" width="6.40" height="15.40" fill="#CCCCCC"/>
<rect x="187.06" y="363.97" width="6.40" height="15.40" fill="#CCCCCC"/>
<rect x="194.98" y="363.97" width="6.40" height="15.40" fill="#CCCCCC"/>
<rect x="202.90" y="363.97" width="6.40" height="15.40" fill="#CCCCCC"/>
<rect x="210.82" y="363.97" width="6.40" height="15.40" fill="#CCCCCC"/>
<rect x="218.74" y="363.97" width="6.40" height="15.40" fill="#33A02C"/>
<rect x="226.66" y="363.97" width="6.40" height="15.40" fill="#CCCCCC"/>
<rect x="234.58" y="363.97" width="6.40" height="15.40" fill="#33A02C"/>
<rect x="242.50" y="363.97" width="6.40" height="15.40" fill="#33A02C"/>
<rect x="250.42" y="363.97" width="6.40" height="15.40" fill="#CCCCCC"/>
<rect x="258.34" y="363.97" width="6.40" height="15.40" fill="#CCCCCC"/>
<rect x="266.26" y="363.97" width="6.40" height="15.40" fill="#CCCCCC"/>
<rect x="274.18" y="363.97" width="6.40" height="15.40" fill="#CCCCCC"/>
<rect x="282.10" y="363.97" width="6.40" height="15.40" fill="#CCCCCC"/>
<rect x="290.02" y="363.97" width="6.40" height="15.40" fill="#CCCCCC"/>
<rect x="297.94" y="363.97" width="6.40" height="15.40" fill="#CCCCCC"/>
<rect x="305.86" y="363.97" width="6.40" height="15.40" fill="#CCCCCC"/>
<rect x="313.78" y="363.97" width="6.40" height="15.40" fill="#CCCCCC"/>
<rect x="321.70" y="363.97" width="6.40" height="15.40" fill="#CCCCCC"/>
<rect x="329.62" y="363.97" width="6.40" height="15.40" fill="#CCCCCC"/>
<rect x="337.54" y="363.97" width="6.40" height="15.40" fill="#CCCCCC"/>
<rect x="345.46" y="363.97" width="6.40" height="15.40" fill="#CCCCCC"/>
<rect x="353.38" y="363.97" width="6.40" height="15.40" fill="#CCCCCC"/>
<rect x="361.30" y="363.97" width="6.40" height="15.40" fill="#33A02C"/>
<text x="42.30" y="376.87" font-size="14.2" text-anchor="start" font-weight="normal" font-style="normal" fill="#1a1a1a">17%</text>
<text x="371.30" y="377.97" font-size="14.4" text-anchor="start" font-weight="normal" font-style="italic" fill="#1a1a1a">NOTCH3</text>
<rect x="84.10" y="382.36" width="6.40" height="15.40" fill="#33A02C"/>
<rect x="92.02" y="382.36" width="6.40" height="15.40" fill="#CCCCCC"/>
<rect x="99.94" y="382.36" width="6.40" height="15.40" fill="#CCCCCC"/>
<rect x="107.86" y="382.36" width="6.40" height="15.40" fill="#CCCCCC"/>
<rect x="115.78" y="382.36" width="6.40" height="15.40" fill="#CCCCCC"/>
<rect x="123.70" y="382.36" width="6.40" height="15.40" fill="#CCCCCC"/>
<rect x="131.62" y="382.36" width="6.40" height="15.40" fill="#CCCCCC"/>
<rect x="139.54" y="382.36" width="6.40" height="15.40" fill="#CCCCCC"/>
<rect x="147.46" y="382.36" width="6.40" height="15.40" fill="#33A02C"/>
<rect x="155.38" y="382.36" width="6.40" height="15.40" fill="#CCCCCC"/>
<rect x="163.30" y="382.36" width="6.40" height="15.40" fill="#CCCCCC"/>
<rect x="171.22" y="382.36" width="6.40" height="15.40" fill="#CCCCCC"/>
<rect x="179.14" y="382.36" width="6.40" height="15.40" fill="#CCCCCC"/>
<rect x="187.06" y="382.36" width="6.40" height="15.40" fill="#CCCCCC"/>
<rect x="194.98" y="382.36" width="6.40" height="15.40" fill="#CCCCCC"/>
<rect x="202.90" y="382.36" width="6.40" height="15.40" fill="#CCCCCC"/>
<rect x="210.82" y="382.36" width="6.40" height="15.40" fill="#33A02C"/>
<rect x="218.74" y="382.36" width="6.40" height="15.40" fill="#CCCCCC"/>
<rect x="226.66" y="382.36" width="6.40" height="15.40" fill="#CCCCCC"/>
<rect x="234.58" y="382.36" width="6.40" height="15.40" fill="#CCCCCC"/>
<rect x="242.50" y="382.36" width="6.40" height="15.40" fill="#CCCCCC"/>
<rect x="250.42" y="382.36" width="6.40" height="15.40" fill="#33A02C"/>
<rect x="258.34" y="382.36" width="6.40" height="15.40" fill="#CCCCCC"/>
<rect x="266.26" y="382.36" width="6.40" height="15.40" fill="#CCCCCC"/>
<rect x="274.18" y="382.36" width="6.40" height="15.40" fill="#CCCCCC"/>
<rect x="282.10" y="382.36" width="6.40" height="15.40" fill="#33A02C"/>
<rect x="290.02" y="382.36" width="6.40" height="15.40" fill="#CCCCCC"/>
<rect x="297.94" y="382.36" width="6.40" height="15.40" fill="#CCCCCC"/>
<rect x="305.86" y="382.36" width="6.40" height="15.40" fill="#CCCCCC"/>
<rect x="313.78" y="382.36" width="6.40" height="15.40" fill="#CCCCCC"/>
<rect x="321.70" y="382.36" width="6.40" height="15.40" fill="#CCCCCC"/>
<rect x="329.62" y="382.36" width="6.40" height="15.40" fill="#CCCCCC"/>
<rect x="337.54" y="382.36" width="6.40" height="15.40" fill="#CCCCCC"/>
<rect x="345.46" y="382.36" width="6.40" height="15.40" fill="#CCCCCC"/>
<rect x="353.38" y="382.36" width="6.40" height="15.40" fill="#33A02C"/>
<rect x="361.30" y="382.36" width="6.40" height="15.40" fill="#CCCCCC"/>
<text x="42.30" y="395.26" font-size="14.2" text-anchor="start" font-weight="normal" font-style="normal" fill="#1a1a1a">17%</text>
<text x="371.30" y="396.36" font-size="14.4" text-anchor="start" font-weight="normal" font-style="italic" fill="#1a1a1a">CASP8</text>
<rect x="84.10" y="400.75" width="6.40" height="15.40" fill="#E31A1C"/>
<rect x="92.02" y="400.75" width="6.40" height="15.40" fill="#CCCCCC"/>
<rect x="99.94" y="400.75" width="6.40" height="15.40" fill="#CCCCCC"/>
<rect x="107.86" y="400.75" width="6.40" height="15.40" fill="#CCCCCC"/>
<rect x="115.78" y="400.75" width="6.40" height="15.40" fill="#CCCCCC"/>
<rect x="123.70" y="400.75" width="6.40" height="15.40" fill="#CCCCCC"/>
<rect x="131.62" y="400.75" width="6.40" height="15.40" fill="#CCCCCC"/>
<rect x="139.54" y="400.75" width="6.40" height="15.40" fill="#CCCCCC"/>
<rect x="147.46" y="400.75" width="6.40" height="15.40" fill="#CCCCCC"/>
<rect x="155.38" y="400.75" width="6.40" height="15.40" fill="#CCCCCC"/>
<rect x="163.30" y="400.75" width="6.40" height="15.40" fill="#CCCCCC"/>
<rect x="171.22" y="400.75" width="6.40" height="15.40" fill="#33A02C"/>
<rect x="179.14" y="400.75" width="6.40" height="15.40" fill="#CCCCCC"/>
<rect x="187.06" y="400.75" width="6.40" height="15.40" fill="#33A02C"/>
<rect x="194.98" y="400.75" width="6.40" height="15.40" fill="#CCCCCC"/>
<rect x="202.90" y="400.75" width="6.40" height="15.40" fill="#CCCCCC"/>
<rect x="210.82" y="400.75" width="6.40" height="15.40" fill="#CCCCCC"/>
<rect x="218.74" y="400.75" width="6.40" height="15.40" fill="#CCCCCC"/>
<rect x="226.66" y="400.75" width="6.40" height="15.40" fill="#CCCCCC"/>
<rect x="234.58" y="400.75" width="6.40" height="15.40" fill="#CCCCCC"/>
<rect x="242.50" y="400.75" width="6.40" height="15.40" fill="#CCCCCC"/>
<rect x="250.42" y="400.75" width="6.40" height="15.40" fill="#CCCCCC"/>
<rect x="258.34" y="400.75" width="6.40" height="15.40" fill="#CCCCCC"/>
<rect x="266.26" y="400.75" width="6.40" height="15.40" fill="#CCCCCC"/>
<rect x="274.18" y="400.75" width="6.40" height="15.40" fill="#CCCCCC"/>
<rect x="282.10" y="400.75" width="6.40" height="15.40" fill="#CCCCCC"/>
<rect x="290.02" y="400.75" width="6.40" height="15.40" fill="#CCCCCC"/>
<rect x="297.94" y="400.75" width="6.40" height="15.40" fill="#33A02C"/>
<rect x="305.86" y="400.75" width="6.40" height="15.40" fill="#CCCCCC"/>
<rect x="313.78" y="400.75" width="6.40" height="15.40" fill="#CCCCCC"/>
<rect x="321.70" y="400.75" width="6.40" height="15.40" fill="#CCCCCC"/>
<rect x="329.62" y="400.75" width="6.40" height="15.40" fill="#E31A1C"/>
<rect x="337.54" y="400.75" width="6.40" height="15.40" fill="#CCCCCC"/>
<rect x="345.46" y="400.75" width="6.40" height="15.40" fill="#CCCCCC"/>
<rect x="353.38" y="400.75" width="6.40" height="15.40" fill="#33A02C"/>
<rect x="361.30" y="400.75" width="6.40" height="15.40" fill="#CCCCCC"/>
<text x="42.30" y="413.65" font-size="14.2" text-anchor="start" font-weight="normal" font-style="normal" fill="#1a1a1a">17%</text>
<text x="371.30" y="414.75" font-size="14.4" text-anchor="start" font-weight="normal" font-style="italic" fill="#1a1a1a">CEP290</text>
<rect x="84.10" y="419.14" width="6.40" height="15.40" fill="#CCCCCC"/>
<rect x="92.02" y="419.14" width="6.40" height="15.40" fill="#CCCCCC"/>
<rect x="99.94" y="419.14" width="6.40" height="15.40" fill="#CCCCCC"/>
<rect x="107.86" y="419.14" width="6.40" height="15.40" fill="#CCCCCC"/>
<rect x="115.78" y="419.14" width="6.40" height="15.40" fill="#CCCCCC"/>
<rect x="123.70" y="419.14" width="6.40" height="15.40" fill="#CCCCCC"/>
<rect x="131.62" y="419.14" width="6.40" height="15.40" fill="#CCCCCC"/>
<rect x="139.54" y="419.14" width="6.40" height="15.40" fill="#CCCCCC"/>
<rect x="147.46" y="419.14" width="6.40" height="15.40" fill="#CCCCCC"/>
<rect x="155.38" y="419.14" width="6.40" height="15.40" fill="#CCCCCC"/>
<rect x="163.30" y="419.14" width="6.40" height="15.40" fill="#CCCCCC"/>
<rect x="171.22" y="419.14" width="6.40" height="15.40" fill="#CCCCCC"/>
<rect x="179.14" y="419.14" width="6.40" height="15.40" fill="#33A02C"/>
<rect x="187.06" y="419.14" width="6.40" height="15.40" fill="#CCCCCC"/>
<rect x="194.98" y="419.14" width="6.40" height="15.40" fill="#CCCCCC"/>
<rect x="202.90" y="419.14" width="6.40" height="15.40" fill="#CCCCCC"/>
<rect x="210.82" y="419.14" width="6.40" height="15.40" fill="#CCCCCC"/>
<rect x="218.74" y="419.14" width="6.40" height="15.40" fill="#CCCCCC"/>
<rect x="226.66" y="419.14" width="6.40" height="15.40" fill="#CCCCCC"/>
<rect x="234.58" y="419.14" width="6.40" height="15.40" fill="#CCCCCC"/>
<rect x="242.50" y="419.14" width="6.40" height="15.40" fill="#33A02C"/>
<rect x="250.42" y="419.14" width="6.40" height="15.40" fill="#CCCCCC"/>
<rect x="258.34" y="419.14" width="6.40" height="15.40" fill="#CCCCCC"/>
<rect x="266.26" y="419.14" width="6.40" height="15.40" fill="#CCCCCC"/>
<rect x="274.18" y="419.14" width="6.40" height="15.40" fill="#CCCCCC"/>
<rect x="282.10" y="419.14" width="6.40" height="15.40" fill="#CCCCCC"/>
<rect x="290.02" y="419.14" width="6.40" height="15.40" fill="#CCCCCC"/>
<rect x="297.94" y="419.14" width="6.40" height="15.40" fill="#33A02C"/>
<rect x="305.86" y="419.14" width="6.40" height="15.40" fill="#CCCCCC"/>
<rect x="313.78" y="419.14" width="6.40" height="15.40" fill="#CCCCCC"/>
<rect x="321.70" y="419.14" width="6.40" height="15.40" fill="#CCCCCC"/>
<rect x="329.62" y="419.14" width="6.40" height="15.40" fill="#CCCCCC"/>
<rect x="337.54" y="419.14" width="6.40" height="15.40" fill="#CCCCCC"/>
<rect x="345.46" y="419.14" width="6.40" height="15.40" fill="#33A02C"/>
<rect x="353.38" y="419.14" width="6.40" height="15.40" fill="#33A02C"/>
<rect x="361.30" y="419.14" width="6.40" height="15.40" fill="#33A02C"/>
<text x="42.30" y="432.04" font-size="14.2" text-anchor="start" font-weight="normal" font-style="normal" fill="#1a1a1a">17%</text>
<text x="371.30" y="433.14" font-size="14.4" text-anchor="start" font-weight="normal" font-style="italic" fill="#1a1a1a">KLRC2</text>
<rect x="84.10" y="437.53" width="6.40" height="15.40" fill="#CCCCCC"/>
<rect x="92.02" y="437.53" width="6.40" height="15.40" fill="#CCCCCC"/>
<rect x="99.94" y="437.53" width="6.40" height="15.40" fill="#CCCCCC"/>
<rect x="107.86" y="437.53" width="6.40" height="15.40" fill="#CCCCCC"/>
<rect x="115.78" y="437.53" width="6.40" height="15.40" fill="#CCCCCC"/>
<rect x="123.70" y="437.53" width="6.40" height="15.40" fill="#CCCCCC"/>
<rect x="131.62" y="437.53" width="6.40" height="15.40" fill="#CCCCCC"/>
<rect x="139.54" y="437.53" width="6.40" height="15.40" fill="#CCCCCC"/>
<rect x="147.46" y="437.53" width="6.40" height="15.40" fill="#CCCCCC"/>
<rect x="155.38" y="437.53" width="6.40" height="15.40" fill="#CCCCCC"/>
<rect x="163.30" y="437.53" width="6.40" height="15.40" fill="#33A02C"/>
<rect x="171.22" y="437.53" width="6.40" height="15.40" fill="#CCCCCC"/>
<rect x="179.14" y="437.53" width="6.40" height="15.40" fill="#CCCCCC"/>
<rect x="187.06" y="437.53" width="6.40" height="15.40" fill="#CCCCCC"/>
<rect x="194.98" y="437.53" width="6.40" height="15.40" fill="#CCCCCC"/>
<rect x="202.90" y="437.53" width="6.40" height="15.40" fill="#CCCCCC"/>
<rect x="210.82" y="437.53" width="6.40" height="15.40" fill="#CCCCCC"/>
<rect x="218.74" y="437.53" width="6.40" height="15.40" fill="#CCCCCC"/>
<rect x="226.66" y="437.53" width="6.40" height="15.40" fill="#33A02C"/>
<rect x="234.58" y="437.53" width="6.40" height="15.40" fill="#33A02C"/>
<rect x="242.50" y="437.53" width="6.40" height="15.40" fill="#33A02C"/>
<rect x="250.42" y="437.53" width="6.40" height="15.40" fill="#CCCCCC"/>
<rect x="258.34" y="437.53" width="6.40" height="15.40" fill="#CCCCCC"/>
<rect x="266.26" y="437.53" width="6.40" height="15.40" fill="#CCCCCC"/>
<rect x="274.18" y="437.53" width="6.40" height="15.40" fill="#CCCCCC"/>
<rect x="282.10" y="437.53" width="6.40" height="15.40" fill="#CCCCCC"/>
<rect x="290.02" y="437.53" width="6.40" height="15.40" fill="#CCCCCC"/>
<rect x="297.94" y="437.53" width="6.40" height="15.40" fill="#CCCCCC"/>
<rect x="305.86" y="437.53" width="6.40" height="15.40" fill="#CCCCCC"/>
<rect x="313.78" y="437.53" width="6.40" height="15.40" fill="#CCCCCC"/>
<rect x="321.70" y="437.53" width="6.40" height="15.40" fill="#CCCCCC"/>
<rect x="329.62" y="437.53" width="6.40" height="15.40" fill="#33A02C"/>
<rect x="337.54" y="437.53" width="6.40" height="15.40" fill="#CCCCCC"/>
<rect x="345.46" y="437.53" width="6.40" height="15.40" fill="#33A02C"/>
<rect x="353.38" y="437.53" width="6.40" height="15.40" fill="#CCCCCC"/>
<rect x="361.30" y="437.53" width="6.40" height="15.40" fill="#CCCCCC"/>
<text x="42.30" y="450.43" font-size="14.2" text-anchor="start" font-weight="normal" font-style="normal" fill="#1a1a1a">17%</text>
<text x="371.30" y="451.53" font-size="14.4" text-anchor="start" font-weight="normal" font-style="italic" fill="#1a1a1a">MAP3K1</text>
<rect x="84.10" y="455.92" width="6.40" height="15.40" fill="#CCCCCC"/>
<rect x="92.02" y="455.92" width="6.40" height="15.40" fill="#CCCCCC"/>
<rect x="99.94" y="455.92" width="6.40" height="15.40" fill="#CCCCCC"/>
<rect x="107.86" y="455.92" width="6.40" height="15.40" fill="#CCCCCC"/>
<rect x="115.78" y="455.92" width="6.40" height="15.40" fill="#33A02C"/>
<rect x="123.70" y="455.92" width="6.40" height="15.40" fill="#CCCCCC"/>
<rect x="131.62" y="455.92" width="6.40" height="15.40" fill="#CCCCCC"/>
<rect x="139.54" y="455.92" width="6.40" height="15.40" fill="#33A02C"/>
<rect x="147.46" y="455.92" width="6.40" height="15.40" fill="#CCCCCC"/>
<rect x="155.38" y="455.92" width="6.40" height="15.40" fill="#CCCCCC"/>
<rect x="163.30" y="455.92" width="6.40" height="15.40" fill="#CCCCCC"/>
<rect x="171.22" y="455.92" width="6.40" height="15.40" fill="#CCCCCC"/>
<rect x="179.14" y="455.92" width="6.40" height="15.40" fill="#CCCCCC"/>
<rect x="187.06" y="455.92" width="6.40" height="15.40" fill="#CCCCCC"/>
<rect x="194.98" y="455.92" width="6.40" height="15.40" fill="#CCCCCC"/>
<rect x="202.90" y="455.92" width="6.40" height="15.40" fill="#CCCCCC"/>
<rect x="210.82" y="455.92" width="6.40" height="15.40" fill="#CCCCCC"/>
<rect x="218.74" y="455.92" width="6.40" height="15.40" fill="#CCCCCC"/>
<rect x="226.66" y="455.92" width="6.40" height="15.40" fill="#CCCCCC"/>
<rect x="234.58" y="455.92" width="6.40" height="15.40" fill="#CCCCCC"/>
<rect x="242.50" y="455.92" width="6.40" height="15.40" fill="#CCCCCC"/>
<rect x="250.42" y="455.92" width="6.40" height="15.40" fill="#CCCCCC"/>
<rect x="258.34" y="455.92" width="6.40" height="15.40" fill="#CCCCCC"/>
<rect x="266.26" y="455.92" width="6.40" height="15.40" fill="#CCCCCC"/>
<rect x="274.18" y="455.92" width="6.40" height="15.40" fill="#33A02C"/>
<rect x="282.10" y="455.92" width="6.40" height="15.40" fill="#CCCCCC"/>
<rect x="290.02" y="455.92" width="6.40" height="15.40" fill="#CCCCCC"/>
<rect x="297.94" y="455.92" width="6.40" height="15.40" fill="#CCCCCC"/>
<rect x="305.86" y="455.92" width="6.40" height="15.40" fill="#33A02C"/>
<rect x="313.78" y="455.92" width="6.40" height="15.40" fill="#CCCCCC"/>
<rect x="321.70" y="455.92" width="6.40" height="15.40" fill="#CCCCCC"/>
<rect x="329.62" y="455.92" width="6.40" height="15.40" fill="#CCCCCC"/>
<rect x="337.54" y="455.92" width="6.40" height="15.40" fill="#CCCCCC"/>
<rect x="345.46" y="455.92" width="6.40" height="15.40" fill="#33A02C"/>
<rect x="353.38" y="455.92" width="6.40" height="15.40" fill="#33A02C"/>
<rect x="361.30" y="455.92" width="6.40" height="15.40" fill="#CCCCCC"/>
<text x="42.30" y="468.82" font-size="14.2" text-anchor="start" font-weight="normal" font-style="normal" fill="#1a1a1a">17%</text>
<text x="371.30" y="469.92" font-size="14.4" text-anchor="start" font-weight="normal" font-style="italic" fill="#1a1a1a">NBAS</text>
<rect x="84.10" y="474.31" width="6.40" height="15.40" fill="#CCCCCC"/>
<rect x="92.02" y="474.31" width="6.40" height="15.40" fill="#CCCCCC"/>
<rect x="99.94" y="474.31" width="6.40" height="15.40" fill="#33A02C"/>
<rect x="107.86" y="474.31" width="6.40" height="15.40" fill="#CCCCCC"/>
<rect x="115.78" y="474.31" width="6.40" height="15.40" fill="#CCCCCC"/>
<rect x="123.70" y="474.31" width="6.40" height="15.40" fill="#CCCCCC"/>
<rect x="131.62" y="474.31" width="6.40" height="15.40" fill="#CCCCCC"/>
<rect x="139.54" y="474.31" width="6.40" height="15.40" fill="#CCCCCC"/>
<rect x="147.46" y="474.31" width="6.40" height="15.40" fill="#CCCCCC"/>
<rect x="155.38" y="474.31" width="6.40" height="15.40" fill="#CCCCCC"/>
<rect x="163.30" y="474.31" width="6.40" height="15.40" fill="#CCCCCC"/>
<rect x="171.22" y="474.31" width="6.40" height="15.40" fill="#33A02C"/>
<rect x="179.14" y="474.31" width="6.40" height="15.40" fill="#CCCCCC"/>
<rect x="187.06" y="474.31" width="6.40" height="15.40" fill="#CCCCCC"/>
<rect x="194.98" y="474.31" width="6.40" height="15.40" fill="#CCCCCC"/>
<rect x="202.90" y="474.31" width="6.40" height="15.40" fill="#33A02C"/>
<rect x="210.82" y="474.31" width="6.40" height="15.40" fill="#CCCCCC"/>
<rect x="218.74" y="474.31" width="6.40" height="15.40" fill="#CCCCCC"/>
<rect x="226.66" y="474.31" width="6.40" height="15.40" fill="#CCCCCC"/>
<rect x="234.58" y="474.31" width="6.40" height="15.40" fill="#CCCCCC"/>
<rect x="242.50" y="474.31" width="6.40" height="15.40" fill="#33A02C"/>
<rect x="250.42" y="474.31" width="6.40" height="15.40" fill="#CCCCCC"/>
<rect x="258.34" y="474.31" width="6.40" height="15.40" fill="#CCCCCC"/>
<rect x="266.26" y="474.31" width="6.40" height="15.40" fill="#CCCCCC"/>
<rect x="274.18" y="474.31" width="6.40" height="15.40" fill="#CCCCCC"/>
<rect x="282.10" y="474.31" width="6.40" height="15.40" fill="#CCCCCC"/>
<rect x="290.02" y="474.31" width="6.40" height="15.40" fill="#CCCCCC"/>
<rect x="297.94" y="474.31" width="6.40" height="15.40" fill="#CCCCCC"/>
<rect x="305.86" y="474.31" width="6.40" height="15.40" fill="#CCCCCC"/>
<rect x="313.78" y="474.31" width="6.40" height="15.40" fill="#CCCCCC"/>
<rect x="321.70" y="474.31" width="6.40" height="15.40" fill="#CCCCCC"/>
<rect x="329.62" y="474.31" width="6.40" height="15.40" fill="#33A02C"/>
<rect x="337.54" y="474.31" width="6.40" height="15.40" fill="#33A02C"/>
<rect x="345.46" y="474.31" width="6.40" height="15.40" fill="#CCCCCC"/>
<rect x="353.38" y="474.31" width="6.40" height="15.40" fill="#CCCCCC"/>
<rect x="361.30" y="474.31" width="6.40" height="15.40" fill="#CCCCCC"/>
<text x="42.30" y="487.21" font-size="14.2" text-anchor="start" font-weight="normal" font-style="normal" fill="#1a1a1a">17%</text>
<text x="371.30" y="488.31" font-size="14.4" text-anchor="start" font-weight="normal" font-style="italic" fill="#1a1a1a">PTPRB</text>
<rect x="442.10" y="125.50" width="86.61" height="14.10" fill="#33A02C"/>
<rect x="528.72" y="125.50" width="15.29" height="14.10" fill="#000000"/>
<rect x="442.10" y="143.89" width="56.04" height="14.10" fill="#33A02C"/>
<rect x="498.15" y="143.89" width="5.09" height="14.10" fill="#E31A1C"/>
<rect x="442.10" y="162.28" width="56.04" height="14.10" fill="#33A02C"/>
<rect x="442.10" y="180.67" width="56.04" height="14.10" fill="#33A02C"/>
<rect x="442.10" y="199.06" width="56.04" height="14.10" fill="#33A02C"/>
<rect x="442.10" y="217.45" width="50.95" height="14.10" fill="#33A02C"/>
<rect x="442.10" y="235.84" width="45.85" height="14.10" fill="#33A02C"/>
<rect x="442.10" y="254.23" width="40.76" height="14.10" fill="#33A02C"/>
<rect x="442.10" y="272.62" width="40.76" height="14.10" fill="#33A02C"/>
<rect x="442.10" y="291.01" width="30.57" height="14.10" fill="#33A02C"/>
<rect x="472.67" y="291.01" width="10.19" height="14.10" fill="#E31A1C"/>
<rect x="442.10" y="309.40" width="35.66" height="14.10" fill="#33A02C"/>
<rect x="442.10" y="327.79" width="35.66" height="14.10" fill="#33A02C"/>
<rect x="442.10" y="346.18" width="35.66" height="14.10" fill="#33A02C"/>
<rect x="442.10" y="364.57" width="30.57" height="14.10" fill="#33A02C"/>
<rect x="442.10" y="382.96" width="30.57" height="14.10" fill="#33A02C"/>
<rect x="442.10" y="401.35" width="20.38" height="14.10" fill="#33A02C"/>
<rect x="462.48" y="401.35" width="10.19" height="14.10" fill="#E31A1C"/>
<rect x="442.10" y="419.74" width="30.57" height="14.10" fill="#33A02C"/>
<rect x="442.10" y="438.13" width="30.57" height="14.10" fill="#33A02C"/>
<rect x="442.10" y="456.52" width="30.57" height="14.10" fill="#33A02C"/>
<rect x="442.10" y="474.91" width="30.57" height="14.10" fill="#33A02C"/>
<text x="439.60" y="87.20" font-size="12.7" text-anchor="start" font-weight="normal" font-style="normal" fill="#1a1a1a">Number of patients</text>
<line x1="442.10" y1="122.50" x2="544.00" y2="122.50" stroke="#222" stroke-width="1"/>
<line x1="442.10" y1="117.30" x2="442.10" y2="123.00" stroke="#222" stroke-width="1"/>
<text x="442.90" y="109.40" font-size="12.9" text-anchor="middle" font-weight="normal" font-style="normal" fill="#1a1a1a">0</text>
<line x1="467.58" y1="117.30" x2="467.58" y2="123.00" stroke="#222" stroke-width="1"/>
<text x="468.38" y="109.40" font-size="12.9" text-anchor="middle" font-weight="normal" font-style="normal" fill="#1a1a1a">5</text>
<line x1="493.05" y1="117.30" x2="493.05" y2="123.00" stroke="#222" stroke-width="1"/>
<text x="493.85" y="109.40" font-size="12.9" text-anchor="middle" font-weight="normal" font-style="normal" fill="#1a1a1a">10</text>
<line x1="518.52" y1="117.30" x2="518.52" y2="123.00" stroke="#222" stroke-width="1"/>
<text x="519.32" y="109.40" font-size="12.9" text-anchor="middle" font-weight="normal" font-style="normal" fill="#1a1a1a">15</text>
<line x1="544.00" y1="117.30" x2="544.00" y2="123.00" stroke="#222" stroke-width="1"/>
<text x="544.80" y="109.40" font-size="12.9" text-anchor="middle" font-weight="normal" font-style="normal" fill="#1a1a1a">20</text>
<rect x="55.00" y="516.00" width="9.80" height="9.80" fill="#33A02C"/>
<text x="74.60" y="525.90" font-size="15.7" text-anchor="start" font-weight="normal" font-style="normal" fill="#1a1a1a">Missense_Mutation</text>
<rect x="227.30" y="515.00" width="9.80" height="9.40" fill="#000000"/>
<text x="246.60" y="525.90" font-size="15.7" text-anchor="start" font-weight="normal" font-style="normal" fill="#1a1a1a">Multi_Hit</text>
<rect x="320.20" y="515.00" width="9.80" height="9.40" fill="#E31A1C"/>
<text x="339.40" y="525.90" font-size="15.7" text-anchor="start" font-weight="normal" font-style="normal" fill="#1a1a1a">Nonsense_Mutation</text>
<text x="1.20" y="564.00" font-size="15.3" text-anchor="start" font-weight="normal" font-style="normal" fill="#111">(B)</text>
<text x="321.10" y="574.80" font-size="15.4" text-anchor="middle" font-weight="bold" font-style="normal" fill="#1a1a1a">FAT1</text>
<polygon points="152,600.7 262,600.7 262,603.2 230,605.2 205,606.9000000000001 165,606.9000000000001 155,604.7" fill="#D3D3D3"/>
<rect x="588.5" y="607.2" width="12" height="8.70" fill="#D3D3D3"/>
<line x1="66.50" y1="618.50" x2="601.50" y2="618.50" stroke="#222" stroke-width="1"/>
<rect x="66.50" y="615.40" width="4.30" height="5.70" fill="none" stroke="#222" stroke-width="1"/>
<rect x="75.25" y="614.90" width="1.10" height="6.70" fill="#222"/>
<rect x="85.85" y="614.90" width="1.10" height="6.70" fill="#222"/>
<rect x="98.55" y="614.90" width="1.10" height="6.70" fill="#222"/>
<rect x="103.60" y="614.90" width="2.30" height="6.70" fill="#222"/>
<rect x="107.80" y="614.90" width="2.80" height="6.70" fill="#222"/>
<rect x="117.65" y="614.90" width="1.10" height="6.70" fill="#222"/>
<rect x="119.25" y="614.90" width="1.10" height="6.70" fill="#222"/>
<rect x="123.45" y="614.90" width="1.10" height="6.70" fill="#222"/>
<rect x="129.35" y="614.90" width="1.10" height="6.70" fill="#222"/>
<rect x="131.45" y="614.90" width="1.10" height="6.70" fill="#222"/>
<rect x="134.35" y="614.90" width="1.10" height="6.70" fill="#222"/>
<rect x="137.55" y="614.90" width="1.10" height="6.70" fill="#222"/>
<rect x="144.45" y="614.90" width="1.10" height="6.70" fill="#222"/>
<rect x="158.25" y="614.90" width="1.10" height="6.70" fill="#222"/>
<rect x="161.35" y="614.90" width="1.10" height="6.70" fill="#222"/>
<rect x="168.50" y="614.90" width="2.20" height="6.70" fill="#222"/>
<rect x="175.65" y="614.90" width="1.10" height="6.70" fill="#222"/>
<rect x="180.15" y="614.90" width="1.10" height="6.70" fill="#222"/>
<rect x="192.65" y="614.90" width="1.10" height="6.70" fill="#222"/>
<rect x="194.75" y="614.90" width="1.10" height="6.70" fill="#222"/>
<rect x="198.95" y="614.90" width="1.10" height="6.70" fill="#222"/>
<rect x="202.75" y="614.90" width="1.10" height="6.70" fill="#222"/>
<rect x="204.50" y="614.90" width="3.80" height="6.70" fill="#222"/>
<rect x="209.30" y="614.90" width="2.70" height="6.70" fill="#222"/>
<rect x="213.35" y="614.90" width="1.10" height="6.70" fill="#222"/>
<rect x="242.20" y="614.90" width="2.20" height="6.70" fill="#222"/>
<rect x="266.05" y="614.90" width="1.10" height="6.70" fill="#222"/>
<rect x="276.50" y="614.90" width="3.40" height="6.70" fill="#222"/>
<rect x="292.35" y="614.90" width="1.10" height="6.70" fill="#222"/>
<rect x="396.45" y="614.90" width="1.10" height="6.70" fill="#222"/>
<polyline points="68.50,600.70 68.50,603.70 68.50,607.20 68.50,618.20" fill="none" stroke="#D0D0D0" stroke-width="1.5" stroke-linejoin="round"/>
<polyline points="86.80,600.70 86.80,603.70 99.10,607.20 99.10,618.20" fill="none" stroke="#D0D0D0" stroke-width="1.5" stroke-linejoin="round"/>
<polyline points="91.50,600.70 91.50,603.70 99.10,607.20 99.10,618.20" fill="none" stroke="#D0D0D0" stroke-width="1.5" stroke-linejoin="round"/>
<polyline points="101.60,600.70 101.60,603.70 104.60,607.20 104.60,618.20" fill="none" stroke="#D0D0D0" stroke-width="1.5" stroke-linejoin="round"/>
<polyline points="106.40,600.70 106.40,603.70 104.60,607.20 104.60,618.20" fill="none" stroke="#D0D0D0" stroke-width="1.5" stroke-linejoin="round"/>
<polyline points="111.20,600.70 111.20,603.70 104.60,607.20 104.60,618.20" fill="none" stroke="#D0D0D0" stroke-width="1.5" stroke-linejoin="round"/>
<polyline points="115.90,600.70 115.90,603.70 118.90,607.20 118.90,618.20" fill="none" stroke="#D0D0D0" stroke-width="1.5" stroke-linejoin="round"/>
<polyline points="120.70,600.70 120.70,603.70 118.90,607.20 118.90,618.20" fill="none" stroke="#D0D0D0" stroke-width="1.5" stroke-linejoin="round"/>
<polyline points="125.50,600.70 125.50,603.70 124.10,607.20 124.10,618.20" fill="none" stroke="#D0D0D0" stroke-width="1.5" stroke-linejoin="round"/>
<polyline points="130.30,600.70 130.30,603.70 124.10,607.20 124.10,618.20" fill="none" stroke="#D0D0D0" stroke-width="1.5" stroke-linejoin="round"/>
<polyline points="135.00,600.70 135.00,603.70 131.70,607.20 131.70,618.20" fill="none" stroke="#D0D0D0" stroke-width="1.5" stroke-linejoin="round"/>
<polyline points="143.00,600.70 143.00,603.70 131.70,607.20 131.70,618.20" fill="none" stroke="#D0D0D0" stroke-width="1.5" stroke-linejoin="round"/>
<polyline points="154.60,600.70 154.60,603.70 159.10,607.20 159.10,618.20" fill="none" stroke="#D0D0D0" stroke-width="1.5" stroke-linejoin="round"/>
<polyline points="158.72,600.70 158.72,603.70 159.10,607.20 159.10,618.20" fill="none" stroke="#D0D0D0" stroke-width="1.5" stroke-linejoin="round"/>
<polyline points="162.85,600.70 162.85,603.70 159.10,607.20 159.10,618.20" fill="none" stroke="#D0D0D0" stroke-width="1.5" stroke-linejoin="round"/>
<polyline points="166.97,600.70 166.97,603.70 161.60,607.20 161.60,618.20" fill="none" stroke="#D0D0D0" stroke-width="1.5" stroke-linejoin="round"/>
<polyline points="171.10,600.70 171.10,603.70 161.60,607.20 161.60,618.20" fill="none" stroke="#D0D0D0" stroke-width="1.5" stroke-linejoin="round"/>
<polyline points="175.22,600.70 175.22,603.70 169.20,607.20 169.20,618.20" fill="none" stroke="#D0D0D0" stroke-width="1.5" stroke-linejoin="round"/>
<polyline points="179.34,600.70 179.34,603.70 169.20,607.20 169.20,618.20" fill="none" stroke="#D0D0D0" stroke-width="1.5" stroke-linejoin="round"/>
<polyline points="183.47,600.70 183.47,603.70 176.10,607.20 176.10,618.20" fill="none" stroke="#D0D0D0" stroke-width="1.5" stroke-linejoin="round"/>
<polyline points="187.59,600.70 187.59,603.70 176.10,607.20 176.10,618.20" fill="none" stroke="#D0D0D0" stroke-width="1.5" stroke-linejoin="round"/>
<polyline points="191.72,600.70 191.72,603.70 180.90,607.20 180.90,618.20" fill="none" stroke="#D0D0D0" stroke-width="1.5" stroke-linejoin="round"/>
<polyline points="195.84,600.70 195.84,603.70 180.90,607.20 180.90,618.20" fill="none" stroke="#D0D0D0" stroke-width="1.5" stroke-linejoin="round"/>
<polyline points="199.96,600.70 199.96,603.70 194.10,607.20 194.10,618.20" fill="none" stroke="#D0D0D0" stroke-width="1.5" stroke-linejoin="round"/>
<polyline points="204.09,600.70 204.09,603.70 194.10,607.20 194.10,618.20" fill="none" stroke="#D0D0D0" stroke-width="1.5" stroke-linejoin="round"/>
<polyline points="208.21,600.70 208.21,603.70 197.30,607.20 197.30,618.20" fill="none" stroke="#D0D0D0" stroke-width="1.5" stroke-linejoin="round"/>
<polyline points="212.34,600.70 212.34,603.70 197.30,607.20 197.30,618.20" fill="none" stroke="#D0D0D0" stroke-width="1.5" stroke-linejoin="round"/>
<polyline points="216.46,600.70 216.46,603.70 197.30,607.20 197.30,618.20" fill="none" stroke="#D0D0D0" stroke-width="1.5" stroke-linejoin="round"/>
<polyline points="220.58,600.70 220.58,603.70 201.00,607.20 201.00,618.20" fill="none" stroke="#D0D0D0" stroke-width="1.5" stroke-linejoin="round"/>
<polyline points="224.71,600.70 224.71,603.70 201.00,607.20 201.00,618.20" fill="none" stroke="#D0D0D0" stroke-width="1.5" stroke-linejoin="round"/>
<polyline points="228.83,600.70 228.83,603.70 205.80,607.20 205.80,618.20" fill="none" stroke="#D0D0D0" stroke-width="1.5" stroke-linejoin="round"/>
<polyline points="232.96,600.70 232.96,603.70 205.80,607.20 205.80,618.20" fill="none" stroke="#D0D0D0" stroke-width="1.5" stroke-linejoin="round"/>
<polyline points="237.08,600.70 237.08,603.70 209.00,607.20 209.00,618.20" fill="none" stroke="#D0D0D0" stroke-width="1.5" stroke-linejoin="round"/>
<polyline points="241.20,600.70 241.20,603.70 209.00,607.20 209.00,618.20" fill="none" stroke="#D0D0D0" stroke-width="1.5" stroke-linejoin="round"/>
<polyline points="245.33,600.70 245.33,603.70 211.60,607.20 211.60,618.20" fill="none" stroke="#D0D0D0" stroke-width="1.5" stroke-linejoin="round"/>
<polyline points="249.45,600.70 249.45,603.70 211.60,607.20 211.60,618.20" fill="none" stroke="#D0D0D0" stroke-width="1.5" stroke-linejoin="round"/>
<polyline points="253.58,600.70 253.58,603.70 243.40,607.20 243.40,618.20" fill="none" stroke="#D0D0D0" stroke-width="1.5" stroke-linejoin="round"/>
<polyline points="257.70,600.70 257.70,603.70 243.40,607.20 243.40,618.20" fill="none" stroke="#D0D0D0" stroke-width="1.5" stroke-linejoin="round"/>
<polyline points="264.30,600.70 264.30,603.70 266.60,607.20 266.60,618.20" fill="none" stroke="#D0D0D0" stroke-width="1.5" stroke-linejoin="round"/>
<polyline points="270.00,600.70 270.00,603.70 277.00,607.20 277.00,618.20" fill="none" stroke="#D0D0D0" stroke-width="1.5" stroke-linejoin="round"/>
<polyline points="276.40,600.70 276.40,603.70 277.80,607.20 277.80,618.20" fill="none" stroke="#D0D0D0" stroke-width="1.5" stroke-linejoin="round"/>
<polyline points="280.30,600.70 280.30,603.70 279.60,607.20 279.60,618.20" fill="none" stroke="#D0D0D0" stroke-width="1.5" stroke-linejoin="round"/>
<polyline points="287.80,600.70 287.80,603.70 279.60,607.20 279.60,618.20" fill="none" stroke="#D0D0D0" stroke-width="1.5" stroke-linejoin="round"/>
<polyline points="292.50,600.70 292.50,603.70 292.90,607.20 292.90,618.20" fill="none" stroke="#D0D0D0" stroke-width="1.5" stroke-linejoin="round"/>
<polyline points="545.00,600.70 545.00,603.90 589.50,608.90 589.50,615.90" fill="none" stroke="#D0D0D0" stroke-width="1.0" stroke-linejoin="round"/>
<polyline points="551.70,600.70 551.70,603.90 589.50,608.90 589.50,615.90" fill="none" stroke="#D0D0D0" stroke-width="1.0" stroke-linejoin="round"/>
<polyline points="563.30,600.70 563.30,603.90 589.50,608.90 589.50,615.90" fill="none" stroke="#D0D0D0" stroke-width="1.0" stroke-linejoin="round"/>
<polyline points="567.01,600.70 567.01,603.90 590.02,608.90 590.02,615.90" fill="none" stroke="#D0D0D0" stroke-width="1.0" stroke-linejoin="round"/>
<polyline points="570.72,600.70 570.72,603.90 590.55,608.90 590.55,615.90" fill="none" stroke="#D0D0D0" stroke-width="1.0" stroke-linejoin="round"/>
<polyline points="574.43,600.70 574.43,603.90 591.08,608.90 591.08,615.90" fill="none" stroke="#D0D0D0" stroke-width="1.0" stroke-linejoin="round"/>
<polyline points="578.14,600.70 578.14,603.90 591.60,608.90 591.60,615.90" fill="none" stroke="#D0D0D0" stroke-width="1.0" stroke-linejoin="round"/>
<polyline points="581.86,600.70 581.86,603.90 592.12,608.90 592.12,615.90" fill="none" stroke="#D0D0D0" stroke-width="1.0" stroke-linejoin="round"/>
<polyline points="585.57,600.70 585.57,603.90 592.65,608.90 592.65,615.90" fill="none" stroke="#D0D0D0" stroke-width="1.0" stroke-linejoin="round"/>
<polyline points="589.28,600.70 589.28,603.90 593.17,608.90 593.17,615.90" fill="none" stroke="#D0D0D0" stroke-width="1.0" stroke-linejoin="round"/>
<polyline points="592.99,600.70 592.99,603.90 593.70,608.90 593.70,615.90" fill="none" stroke="#D0D0D0" stroke-width="1.0" stroke-linejoin="round"/>
<polyline points="596.70,600.70 596.70,603.90 594.23,608.90 594.23,615.90" fill="none" stroke="#D0D0D0" stroke-width="1.0" stroke-linejoin="round"/>
<polyline points="601.70,600.70 601.70,603.90 594.75,608.90 594.75,615.90" fill="none" stroke="#D0D0D0" stroke-width="1.0" stroke-linejoin="round"/>
<polyline points="605.81,600.70 605.81,603.90 595.27,608.90 595.27,615.90" fill="none" stroke="#D0D0D0" stroke-width="1.0" stroke-linejoin="round"/>
<polyline points="609.92,600.70 609.92,603.90 595.80,608.90 595.80,615.90" fill="none" stroke="#D0D0D0" stroke-width="1.0" stroke-linejoin="round"/>
<polyline points="614.03,600.70 614.03,603.90 596.33,608.90 596.33,615.90" fill="none" stroke="#D0D0D0" stroke-width="1.0" stroke-linejoin="round"/>
<polyline points="618.14,600.70 618.14,603.90 596.85,608.90 596.85,615.90" fill="none" stroke="#D0D0D0" stroke-width="1.0" stroke-linejoin="round"/>
<polyline points="622.25,600.70 622.25,603.90 597.38,608.90 597.38,615.90" fill="none" stroke="#D0D0D0" stroke-width="1.0" stroke-linejoin="round"/>
<polyline points="626.36,600.70 626.36,603.90 597.90,608.90 597.90,615.90" fill="none" stroke="#D0D0D0" stroke-width="1.0" stroke-linejoin="round"/>
<polyline points="630.47,600.70 630.47,603.90 598.42,608.90 598.42,615.90" fill="none" stroke="#D0D0D0" stroke-width="1.0" stroke-linejoin="round"/>
<polyline points="634.58,600.70 634.58,603.90 598.95,608.90 598.95,615.90" fill="none" stroke="#D0D0D0" stroke-width="1.0" stroke-linejoin="round"/>
<polyline points="638.69,600.70 638.69,603.90 599.48,608.90 599.48,615.90" fill="none" stroke="#D0D0D0" stroke-width="1.0" stroke-linejoin="round"/>
<polyline points="642.80,600.70 642.80,603.90 600.00,608.90 600.00,615.90" fill="none" stroke="#D0D0D0" stroke-width="1.0" stroke-linejoin="round"/>
<polyline points="158.8,600.7 160.5,605.7 168,607.0 200,607.5 203.1,608.0 203.1,615.9" fill="none" stroke="#DC3C46" stroke-width="1.1"/>
<polyline points="257.7,603.2 240,605.2 216,607.7 214.3,608.2" fill="none" stroke="#E9A0A4" stroke-width="1.0"/>
<polyline points="230.2,600.7 226,604.7 215,607.7 214.3,608.2 214.3,615.9" fill="none" stroke="#E23A42" stroke-width="1.1"/>
<polyline points="559.2,600.7 561,603.2 584,606.9000000000001" fill="none" stroke="#E23A42" stroke-width="0.8"/>
<polyline points="104.60,607.20 104.60,618.50" fill="none" stroke="#D6A9AD" stroke-width="1.5"/>
<polyline points="96.80,600.70 96.80,603.20 104.60,607.20 104.60,608.70" fill="none" stroke="#DC3C46" stroke-width="1.2" stroke-linejoin="round"/>
<polyline points="131.70,607.20 131.70,618.50" fill="none" stroke="#D6A9AD" stroke-width="1.5"/>
<polyline points="138.20,600.70 138.20,603.20 131.70,607.20 131.70,608.70" fill="none" stroke="#DC3C46" stroke-width="1.2" stroke-linejoin="round"/>
<polyline points="394.30,600.70 394.30,603.20 397.00,608.20 397.00,621.10" fill="none" stroke="#DC3C46" stroke-width="1.3" stroke-linejoin="round"/>
<polyline points="399.70,600.70 399.70,603.20 397.00,608.20 397.00,621.10" fill="none" stroke="#DC3C46" stroke-width="1.3" stroke-linejoin="round"/>
<rect x="586.9" y="615.40" width="14.4" height="5.70" fill="#D6D6D6" stroke="#222" stroke-width="1"/>
<line x1="590.00" y1="615.90" x2="590.00" y2="620.60" stroke="#EAEAEA" stroke-width="0.6"/>
<line x1="593.00" y1="615.90" x2="593.00" y2="620.60" stroke="#EAEAEA" stroke-width="0.6"/>
<line x1="596.00" y1="615.90" x2="596.00" y2="620.60" stroke="#EAEAEA" stroke-width="0.6"/>
<line x1="599.00" y1="615.90" x2="599.00" y2="620.60" stroke="#EAEAEA" stroke-width="0.6"/>
<line x1="112.50" y1="621.50" x2="552.50" y2="621.50" stroke="#222" stroke-width="1"/>
<line x1="112.50" y1="621.50" x2="112.50" y2="631.40" stroke="#222" stroke-width="1"/>
<text x="112.90" y="655.90" font-size="15.8" text-anchor="middle" font-weight="normal" font-style="normal" fill="#1a1a1a">187520000</text>
<line x1="200.50" y1="621.50" x2="200.50" y2="631.40" stroke="#222" stroke-width="1"/>
<text x="200.98" y="655.90" font-size="15.8" text-anchor="middle" font-weight="normal" font-style="normal" fill="#1a1a1a">187540000</text>
<line x1="288.50" y1="621.50" x2="288.50" y2="631.40" stroke="#222" stroke-width="1"/>
<text x="289.06" y="655.90" font-size="15.8" text-anchor="middle" font-weight="normal" font-style="normal" fill="#1a1a1a">187560000</text>
<line x1="376.50" y1="621.50" x2="376.50" y2="631.40" stroke="#222" stroke-width="1"/>
<text x="377.14" y="655.90" font-size="15.8" text-anchor="middle" font-weight="normal" font-style="normal" fill="#1a1a1a">187580000</text>
<line x1="464.50" y1="621.50" x2="464.50" y2="631.40" stroke="#222" stroke-width="1"/>
<text x="465.22" y="655.90" font-size="15.8" text-anchor="middle" font-weight="normal" font-style="normal" fill="#1a1a1a">187600000</text>
<line x1="552.50" y1="621.50" x2="552.50" y2="631.40" stroke="#222" stroke-width="1"/>
<text x="553.30" y="655.90" font-size="15.8" text-anchor="middle" font-weight="normal" font-style="normal" fill="#1a1a1a">187620000</text>
<circle cx="68.50" cy="600.70" r="2.85" fill="#C8C8C8"/>
<circle cx="86.80" cy="600.70" r="2.85" fill="#C8C8C8"/>
<circle cx="91.50" cy="600.70" r="2.85" fill="#C8C8C8"/>
<circle cx="101.60" cy="600.70" r="2.85" fill="#C8C8C8"/>
<circle cx="106.40" cy="600.70" r="2.85" fill="#C8C8C8"/>
<circle cx="111.20" cy="600.70" r="2.85" fill="#C8C8C8"/>
<circle cx="115.90" cy="600.70" r="2.85" fill="#C8C8C8"/>
<circle cx="120.70" cy="600.70" r="2.85" fill="#C8C8C8"/>
<circle cx="125.50" cy="600.70" r="2.85" fill="#C8C8C8"/>
<circle cx="130.30" cy="600.70" r="2.85" fill="#C8C8C8"/>
<circle cx="135.00" cy="600.70" r="2.85" fill="#C8C8C8"/>
<circle cx="143.00" cy="600.70" r="2.85" fill="#C8C8C8"/>
<circle cx="154.60" cy="600.70" r="2.85" fill="#C8C8C8"/>
<circle cx="158.72" cy="600.70" r="2.85" fill="#C8C8C8"/>
<circle cx="158.80" cy="600.70" r="2.85" fill="#E21B23"/>
<circle cx="160.90" cy="600.70" r="2.85" fill="#C8C8C8"/>
<circle cx="162.85" cy="600.70" r="2.85" fill="#C8C8C8"/>
<circle cx="166.97" cy="600.70" r="2.85" fill="#C8C8C8"/>
<circle cx="171.10" cy="600.70" r="2.85" fill="#C8C8C8"/>
<circle cx="175.22" cy="600.70" r="2.85" fill="#C8C8C8"/>
<circle cx="179.34" cy="600.70" r="2.85" fill="#C8C8C8"/>
<circle cx="183.47" cy="600.70" r="2.85" fill="#C8C8C8"/>
<circle cx="187.59" cy="600.70" r="2.85" fill="#C8C8C8"/>
<circle cx="191.72" cy="600.70" r="2.85" fill="#C8C8C8"/>
<circle cx="195.84" cy="600.70" r="2.85" fill="#C8C8C8"/>
<circle cx="199.96" cy="600.70" r="2.85" fill="#C8C8C8"/>
<circle cx="204.09" cy="600.70" r="2.85" fill="#C8C8C8"/>
<circle cx="208.21" cy="600.70" r="2.85" fill="#C8C8C8"/>
<circle cx="212.34" cy="600.70" r="2.85" fill="#C8C8C8"/>
<circle cx="216.46" cy="600.70" r="2.85" fill="#C8C8C8"/>
<circle cx="220.58" cy="600.70" r="2.85" fill="#C8C8C8"/>
<circle cx="224.71" cy="600.70" r="2.85" fill="#C8C8C8"/>
<circle cx="228.83" cy="600.70" r="2.85" fill="#C8C8C8"/>
<circle cx="232.96" cy="600.70" r="2.85" fill="#C8C8C8"/>
<circle cx="237.08" cy="600.70" r="2.85" fill="#C8C8C8"/>
<circle cx="241.20" cy="600.70" r="2.85" fill="#C8C8C8"/>
<circle cx="245.33" cy="600.70" r="2.85" fill="#C8C8C8"/>
<circle cx="249.45" cy="600.70" r="2.85" fill="#C8C8C8"/>
<circle cx="253.58" cy="600.70" r="2.85" fill="#C8C8C8"/>
<circle cx="257.70" cy="600.70" r="2.85" fill="#C8C8C8"/>
<circle cx="264.30" cy="600.70" r="2.85" fill="#C8C8C8"/>
<circle cx="270.00" cy="600.70" r="2.85" fill="#C8C8C8"/>
<circle cx="276.40" cy="600.70" r="2.85" fill="#C8C8C8"/>
<circle cx="280.30" cy="600.70" r="2.85" fill="#C8C8C8"/>
<circle cx="287.80" cy="600.70" r="2.85" fill="#C8C8C8"/>
<circle cx="292.50" cy="600.70" r="2.85" fill="#C8C8C8"/>
<circle cx="545.00" cy="600.70" r="2.85" fill="#C8C8C8"/>
<circle cx="551.70" cy="600.70" r="2.85" fill="#C8C8C8"/>
<circle cx="563.30" cy="600.70" r="2.85" fill="#C8C8C8"/>
<circle cx="567.01" cy="600.70" r="2.85" fill="#C8C8C8"/>
<circle cx="570.72" cy="600.70" r="2.85" fill="#C8C8C8"/>
<circle cx="574.43" cy="600.70" r="2.85" fill="#C8C8C8"/>
<circle cx="578.14" cy="600.70" r="2.85" fill="#C8C8C8"/>
<circle cx="581.86" cy="600.70" r="2.85" fill="#C8C8C8"/>
<circle cx="585.57" cy="600.70" r="2.85" fill="#C8C8C8"/>
<circle cx="589.28" cy="600.70" r="2.85" fill="#C8C8C8"/>
<circle cx="592.99" cy="600.70" r="2.85" fill="#C8C8C8"/>
<circle cx="596.70" cy="600.70" r="2.85" fill="#C8C8C8"/>
<circle cx="601.70" cy="600.70" r="2.85" fill="#C8C8C8"/>
<circle cx="605.81" cy="600.70" r="2.85" fill="#C8C8C8"/>
<circle cx="609.92" cy="600.70" r="2.85" fill="#C8C8C8"/>
<circle cx="614.03" cy="600.70" r="2.85" fill="#C8C8C8"/>
<circle cx="618.14" cy="600.70" r="2.85" fill="#C8C8C8"/>
<circle cx="622.25" cy="600.70" r="2.85" fill="#C8C8C8"/>
<circle cx="626.36" cy="600.70" r="2.85" fill="#C8C8C8"/>
<circle cx="630.47" cy="600.70" r="2.85" fill="#C8C8C8"/>
<circle cx="634.58" cy="600.70" r="2.85" fill="#C8C8C8"/>
<circle cx="638.69" cy="600.70" r="2.85" fill="#C8C8C8"/>
<circle cx="642.80" cy="600.70" r="2.85" fill="#C8C8C8"/>
<circle cx="96.80" cy="600.70" r="2.85" fill="#E21B23"/>
<circle cx="138.20" cy="600.70" r="2.85" fill="#E21B23"/>
<circle cx="230.20" cy="600.70" r="2.85" fill="#E21B23"/>
<circle cx="394.30" cy="600.70" r="2.85" fill="#E21B23"/>
<circle cx="399.70" cy="600.70" r="2.85" fill="#E21B23"/>
<circle cx="559.20" cy="600.70" r="2.85" fill="#E21B23"/>
<text x="328.40" y="690.70" font-size="15.4" text-anchor="middle" font-weight="bold" font-style="normal" fill="#1a1a1a">NOTCH2</text>
<line x1="87.30" y1="727.50" x2="621.80" y2="727.50" stroke="#222" stroke-width="1"/>
<rect x="87.30" y="724.70" width="7.10" height="5.20" fill="none" stroke="#222" stroke-width="1"/>
<rect x="98.65" y="724.20" width="1.10" height="6.20" fill="#222"/>
<rect x="101.45" y="724.20" width="1.10" height="6.20" fill="#222"/>
<rect x="103.90" y="724.20" width="2.90" height="6.20" fill="#222"/>
<rect x="107.85" y="724.20" width="1.10" height="6.20" fill="#222"/>
<rect x="110.45" y="724.20" width="1.10" height="6.20" fill="#222"/>
<rect x="119.90" y="724.20" width="2.80" height="6.20" fill="#222"/>
<rect x="124.95" y="724.20" width="1.10" height="6.20" fill="#222"/>
<rect x="127.65" y="724.20" width="1.10" height="6.20" fill="#222"/>
<rect x="135.00" y="724.20" width="2.10" height="6.20" fill="#222"/>
<rect x="139.75" y="724.20" width="1.10" height="6.20" fill="#222"/>
<rect x="151.85" y="724.20" width="1.10" height="6.20" fill="#222"/>
<rect x="180.00" y="724.20" width="3.30" height="6.20" fill="#222"/>
<rect x="190.50" y="724.70" width="3.70" height="5.20" fill="none" stroke="#222" stroke-width="1"/>
<rect x="205.30" y="724.20" width="2.60" height="6.20" fill="#222"/>
<rect x="209.40" y="724.20" width="2.60" height="6.20" fill="#222"/>
<rect x="242.00" y="724.70" width="3.80" height="5.20" fill="none" stroke="#222" stroke-width="1"/>
<rect x="250.30" y="724.70" width="3.70" height="5.20" fill="none" stroke="#222" stroke-width="1"/>
<rect x="265.50" y="724.20" width="2.50" height="6.20" fill="#222"/>
<rect x="273.00" y="724.20" width="1.80" height="6.20" fill="#222"/>
<rect x="292.95" y="724.20" width="1.10" height="6.20" fill="#222"/>
<rect x="312.90" y="724.20" width="1.60" height="6.20" fill="#222"/>
<rect x="321.20" y="724.20" width="1.80" height="6.20" fill="#222"/>
<rect x="325.20" y="724.20" width="1.80" height="6.20" fill="#222"/>
<rect x="330.60" y="724.70" width="4.20" height="5.20" fill="none" stroke="#222" stroke-width="1"/>
<rect x="339.70" y="724.20" width="2.10" height="6.20" fill="#222"/>
<rect x="420.85" y="724.20" width="1.10" height="6.20" fill="#222"/>
<rect x="467.20" y="724.70" width="4.00" height="5.20" fill="none" stroke="#222" stroke-width="1"/>
<rect x="507.25" y="724.20" width="1.10" height="6.20" fill="#222"/>
<rect x="621.05" y="724.20" width="1.10" height="6.20" fill="#222"/>
<polyline points="87.30,710.60 87.30,713.60 90.30,717.10 90.30,727.20" fill="none" stroke="#D0D0D0" stroke-width="1.5" stroke-linejoin="round"/>
<polyline points="93.30,710.60 93.30,713.60 90.30,717.10 90.30,727.20" fill="none" stroke="#D0D0D0" stroke-width="1.5" stroke-linejoin="round"/>
<polyline points="99.20,710.60 99.20,713.60 99.20,717.10 99.20,727.20" fill="none" stroke="#D0D0D0" stroke-width="1.5" stroke-linejoin="round"/>
<polyline points="108.50,710.60 108.50,713.60 111.00,717.10 111.00,727.20" fill="none" stroke="#D0D0D0" stroke-width="1.5" stroke-linejoin="round"/>
<polyline points="114.10,710.60 114.10,713.60 111.00,717.10 111.00,727.20" fill="none" stroke="#D0D0D0" stroke-width="1.5" stroke-linejoin="round"/>
<polyline points="120.90,710.60 120.90,713.60 120.90,717.10 120.90,727.20" fill="none" stroke="#D0D0D0" stroke-width="1.5" stroke-linejoin="round"/>
<polyline points="127.40,710.60 127.40,713.60 128.20,717.10 128.20,727.20" fill="none" stroke="#D0D0D0" stroke-width="1.5" stroke-linejoin="round"/>
<polyline points="132.30,710.60 132.30,713.60 135.80,717.10 135.80,727.20" fill="none" stroke="#D0D0D0" stroke-width="1.5" stroke-linejoin="round"/>
<polyline points="138.00,710.60 138.00,713.60 135.80,717.10 135.80,727.20" fill="none" stroke="#D0D0D0" stroke-width="1.5" stroke-linejoin="round"/>
<polyline points="179.80,710.60 179.80,713.60 182.10,717.10 182.10,727.20" fill="none" stroke="#D0D0D0" stroke-width="1.5" stroke-linejoin="round"/>
<polyline points="187.90,710.60 187.90,713.60 192.00,717.10 192.00,727.20" fill="none" stroke="#D0D0D0" stroke-width="1.5" stroke-linejoin="round"/>
<polyline points="193.00,710.60 193.00,713.60 192.50,717.10 192.50,727.20" fill="none" stroke="#D0D0D0" stroke-width="1.5" stroke-linejoin="round"/>
<polyline points="198.50,710.60 198.50,713.60 193.50,717.10 193.50,727.20" fill="none" stroke="#D0D0D0" stroke-width="1.5" stroke-linejoin="round"/>
<polyline points="242.70,710.60 242.70,713.60 243.50,717.10 243.50,727.20" fill="none" stroke="#D0D0D0" stroke-width="1.5" stroke-linejoin="round"/>
<polyline points="293.50,710.60 293.50,713.60 293.50,717.10 293.50,727.20" fill="none" stroke="#D0D0D0" stroke-width="1.5" stroke-linejoin="round"/>
<polyline points="326.10,710.60 326.10,713.60 331.40,717.10 331.40,727.20" fill="none" stroke="#D0D0D0" stroke-width="1.5" stroke-linejoin="round"/>
<polyline points="330.30,710.60 330.30,713.60 331.40,717.10 331.40,727.20" fill="none" stroke="#D0D0D0" stroke-width="1.5" stroke-linejoin="round"/>
<polyline points="335.20,710.60 335.20,713.60 333.60,717.10 333.60,727.20" fill="none" stroke="#D0D0D0" stroke-width="1.5" stroke-linejoin="round"/>
<polyline points="340.00,710.60 340.00,713.60 340.90,717.10 340.90,727.20" fill="none" stroke="#D0D0D0" stroke-width="1.5" stroke-linejoin="round"/>
<polyline points="347.30,710.60 347.30,713.60 340.90,717.10 340.90,727.20" fill="none" stroke="#D0D0D0" stroke-width="1.5" stroke-linejoin="round"/>
<polyline points="507.90,710.60 507.90,713.10 507.90,717.60 507.90,729.90" fill="none" stroke="#DC3C46" stroke-width="1.3" stroke-linejoin="round"/>
<polyline points="618.70,710.60 618.70,713.10 621.80,717.60 621.80,729.90" fill="none" stroke="#DC3C46" stroke-width="1.3" stroke-linejoin="round"/>
<polyline points="624.20,710.60 624.20,713.10 621.80,717.60 621.80,729.90" fill="none" stroke="#DC3C46" stroke-width="1.3" stroke-linejoin="round"/>
<line x1="97.50" y1="730.50" x2="563.50" y2="730.50" stroke="#222" stroke-width="1"/>
<line x1="97.50" y1="730.50" x2="97.50" y2="740.60" stroke="#222" stroke-width="1"/>
<text x="98.50" y="765.60" font-size="15.8" text-anchor="middle" font-weight="normal" font-style="normal" fill="#1a1a1a">120460000</text>
<line x1="191.50" y1="730.50" x2="191.50" y2="740.60" stroke="#222" stroke-width="1"/>
<text x="191.60" y="765.60" font-size="15.8" text-anchor="middle" font-weight="normal" font-style="normal" fill="#1a1a1a">120480000</text>
<line x1="284.50" y1="730.50" x2="284.50" y2="740.60" stroke="#222" stroke-width="1"/>
<text x="284.70" y="765.60" font-size="15.8" text-anchor="middle" font-weight="normal" font-style="normal" fill="#1a1a1a">120500000</text>
<line x1="377.50" y1="730.50" x2="377.50" y2="740.60" stroke="#222" stroke-width="1"/>
<text x="377.80" y="765.60" font-size="15.8" text-anchor="middle" font-weight="normal" font-style="normal" fill="#1a1a1a">120520000</text>
<line x1="470.50" y1="730.50" x2="470.50" y2="740.60" stroke="#222" stroke-width="1"/>
<text x="470.90" y="765.60" font-size="15.8" text-anchor="middle" font-weight="normal" font-style="normal" fill="#1a1a1a">120540000</text>
<line x1="563.50" y1="730.50" x2="563.50" y2="740.60" stroke="#222" stroke-width="1"/>
<text x="564.00" y="765.60" font-size="15.8" text-anchor="middle" font-weight="normal" font-style="normal" fill="#1a1a1a">120560000</text>
<circle cx="87.30" cy="710.60" r="2.9" fill="#C8C8C8"/>
<circle cx="93.30" cy="710.60" r="2.9" fill="#C8C8C8"/>
<circle cx="99.20" cy="710.60" r="2.9" fill="#C8C8C8"/>
<circle cx="108.50" cy="710.60" r="2.9" fill="#C8C8C8"/>
<circle cx="114.10" cy="710.60" r="2.9" fill="#C8C8C8"/>
<circle cx="120.90" cy="710.60" r="2.9" fill="#C8C8C8"/>
<circle cx="127.40" cy="710.60" r="2.9" fill="#C8C8C8"/>
<circle cx="132.30" cy="710.60" r="2.9" fill="#C8C8C8"/>
<circle cx="138.00" cy="710.60" r="2.9" fill="#C8C8C8"/>
<circle cx="179.80" cy="710.60" r="2.9" fill="#C8C8C8"/>
<circle cx="187.90" cy="710.60" r="2.9" fill="#C8C8C8"/>
<circle cx="193.00" cy="710.60" r="2.9" fill="#C8C8C8"/>
<circle cx="198.50" cy="710.60" r="2.9" fill="#C8C8C8"/>
<circle cx="242.70" cy="710.60" r="2.9" fill="#C8C8C8"/>
<circle cx="293.50" cy="710.60" r="2.9" fill="#C8C8C8"/>
<circle cx="326.10" cy="710.60" r="2.9" fill="#C8C8C8"/>
<circle cx="330.30" cy="710.60" r="2.9" fill="#C8C8C8"/>
<circle cx="335.20" cy="710.60" r="2.9" fill="#C8C8C8"/>
<circle cx="340.00" cy="710.60" r="2.9" fill="#C8C8C8"/>
<circle cx="347.30" cy="710.60" r="2.9" fill="#C8C8C8"/>
<circle cx="507.90" cy="710.60" r="2.9" fill="#E21B23"/>
<circle cx="618.70" cy="710.60" r="2.9" fill="#E21B23"/>
<circle cx="624.20" cy="710.60" r="2.9" fill="#E21B23"/>
<text x="324.70" y="793.60" font-size="15.4" text-anchor="middle" font-weight="bold" font-style="normal" fill="#1a1a1a">TP53</text>
<rect x="143.2" y="816.0" width="515.4" height="5.9" rx="2.95" fill="#C9C9C9"/>
<polygon points="146,821 280,821.5 656,821.5 656,825.2 300,825 195,825.3 172,824.5 150,822.8" fill="#D1D1D1"/>
<line x1="152" y1="821.6" x2="652" y2="821.6" stroke="#fff" stroke-width="0.9" stroke-dasharray="2.2,2.6" opacity="0.85"/>
<polygon points="395.30,824.8 411.30,824.8 408.30,827.5 408.30,835.50 398.30,835.50 398.30,827.5" fill="#D3D3D3"/>
<polygon points="430.20,824.8 444.20,824.8 441.20,827.5 441.20,835.50 433.20,835.50 433.20,827.5" fill="#D3D3D3"/>
<polygon points="478.00,824.8 493.20,824.8 490.20,827.5 490.20,835.50 481.00,835.50 481.00,827.5" fill="#D3D3D3"/>
<polygon points="492.50,824.8 511.30,824.8 508.30,827.5 508.30,835.50 495.50,835.50 495.50,827.5" fill="#D3D3D3"/>
<polygon points="174.60,824.6 188.40,824.6 185.40,826.8 177.60,826.8" fill="#D6D6D6"/>
<polygon points="383.20,824.6 395.30,824.6 392.30,826.8 386.20,826.8" fill="#D6D6D6"/>
<polygon points="559.00,824.6 585.40,824.6 582.40,826.8 562.00,826.8" fill="#D6D6D6"/>
<polygon points="587.00,824.6 610.70,824.6 607.70,826.8 590.00,826.8" fill="#D6D6D6"/>
<line x1="503.90" y1="826.00" x2="503.90" y2="835.50" stroke="#E08A90" stroke-width="0.8"/>
<polyline points="178.2,821.6 182.8,824.8 188.2,823" fill="none" stroke="#E04850" stroke-width="0.7"/>
<line x1="72.70" y1="835.50" x2="607.70" y2="835.50" stroke="#222" stroke-width="1"/>
<rect x="72.70" y="832.80" width="39.60" height="5.60" fill="none" stroke="#222" stroke-width="1"/>
<rect x="177.60" y="832.80" width="7.80" height="5.60" fill="none" stroke="#222" stroke-width="1"/>
<rect x="363.30" y="832.80" width="10.20" height="5.60" fill="none" stroke="#222" stroke-width="1"/>
<rect x="457.90" y="832.80" width="69.40" height="5.60" fill="none" stroke="#222" stroke-width="1"/>
<rect x="562.00" y="832.80" width="20.40" height="5.60" fill="none" stroke="#222" stroke-width="1"/>
<rect x="590.00" y="832.80" width="17.70" height="5.60" fill="none" stroke="#222" stroke-width="1"/>
<rect x="386.20" y="835.50" width="6.10" height="2.90" fill="#fff" stroke="#222" stroke-width="1"/>
<rect x="398.30" y="835.50" width="10.00" height="2.90" fill="#fff" stroke="#222" stroke-width="1"/>
<rect x="433.20" y="835.50" width="8.00" height="2.90" fill="#fff" stroke="#222" stroke-width="1"/>
<rect x="490.20" y="835.50" width="5.30" height="2.90" fill="#fff" stroke="#222" stroke-width="1"/>
<rect x="481.00" y="832.30" width="9.20" height="3.20" fill="#D3D3D3"/>
<rect x="495.50" y="832.30" width="12.80" height="3.20" fill="#D3D3D3"/>
<line x1="178.60" y1="825.50" x2="178.60" y2="836.30" stroke="#CFCFCF" stroke-width="1.0"/>
<line x1="179.60" y1="825.50" x2="179.60" y2="836.30" stroke="#CFCFCF" stroke-width="1.0"/>
<line x1="183.40" y1="825.50" x2="183.40" y2="836.30" stroke="#CFCFCF" stroke-width="1.0"/>
<line x1="184.40" y1="825.50" x2="184.40" y2="836.30" stroke="#CFCFCF" stroke-width="1.0"/>
<line x1="386.90" y1="825.50" x2="386.90" y2="836.30" stroke="#CFCFCF" stroke-width="1.0"/>
<line x1="389.30" y1="825.50" x2="389.30" y2="836.30" stroke="#CFCFCF" stroke-width="1.0"/>
<line x1="391.60" y1="825.50" x2="391.60" y2="836.30" stroke="#CFCFCF" stroke-width="1.0"/>
<line x1="562.60" y1="825.50" x2="562.60" y2="836.30" stroke="#CFCFCF" stroke-width="1.0"/>
<line x1="565.00" y1="825.50" x2="565.00" y2="836.30" stroke="#CFCFCF" stroke-width="1.0"/>
<line x1="567.40" y1="825.50" x2="567.40" y2="836.30" stroke="#CFCFCF" stroke-width="1.0"/>
<line x1="569.80" y1="825.50" x2="569.80" y2="836.30" stroke="#CFCFCF" stroke-width="1.0"/>
<line x1="572.20" y1="825.50" x2="572.20" y2="836.30" stroke="#CFCFCF" stroke-width="1.0"/>
<line x1="574.60" y1="825.50" x2="574.60" y2="836.30" stroke="#CFCFCF" stroke-width="1.0"/>
<line x1="577.00" y1="825.50" x2="577.00" y2="836.30" stroke="#CFCFCF" stroke-width="1.0"/>
<line x1="579.40" y1="825.50" x2="579.40" y2="836.30" stroke="#CFCFCF" stroke-width="1.0"/>
<line x1="581.80" y1="825.50" x2="581.80" y2="836.30" stroke="#CFCFCF" stroke-width="1.0"/>
<line x1="590.90" y1="825.50" x2="590.90" y2="836.30" stroke="#CFCFCF" stroke-width="1.0"/>
<line x1="605.00" y1="825.50" x2="605.00" y2="836.30" stroke="#CFCFCF" stroke-width="1.0"/>
<line x1="110.50" y1="838.50" x2="540.50" y2="838.50" stroke="#222" stroke-width="1"/>
<line x1="110.50" y1="838.50" x2="110.50" y2="848.30" stroke="#222" stroke-width="1"/>
<text x="111.50" y="873.30" font-size="15.8" text-anchor="middle" font-weight="normal" font-style="normal" fill="#1a1a1a">7573000</text>
<line x1="182.50" y1="838.50" x2="182.50" y2="848.30" stroke="#222" stroke-width="1"/>
<text x="183.07" y="873.30" font-size="15.8" text-anchor="middle" font-weight="normal" font-style="normal" fill="#1a1a1a">7574000</text>
<line x1="254.50" y1="838.50" x2="254.50" y2="848.30" stroke="#222" stroke-width="1"/>
<text x="254.64" y="873.30" font-size="15.8" text-anchor="middle" font-weight="normal" font-style="normal" fill="#1a1a1a">7575000</text>
<line x1="325.50" y1="838.50" x2="325.50" y2="848.30" stroke="#222" stroke-width="1"/>
<text x="326.21" y="873.30" font-size="15.8" text-anchor="middle" font-weight="normal" font-style="normal" fill="#1a1a1a">7576000</text>
<line x1="397.50" y1="838.50" x2="397.50" y2="848.30" stroke="#222" stroke-width="1"/>
<text x="397.78" y="873.30" font-size="15.8" text-anchor="middle" font-weight="normal" font-style="normal" fill="#1a1a1a">7577000</text>
<line x1="468.50" y1="838.50" x2="468.50" y2="848.30" stroke="#222" stroke-width="1"/>
<text x="469.35" y="873.30" font-size="15.8" text-anchor="middle" font-weight="normal" font-style="normal" fill="#1a1a1a">7578000</text>
<line x1="540.50" y1="838.50" x2="540.50" y2="848.30" stroke="#222" stroke-width="1"/>
<text x="540.92" y="873.30" font-size="15.8" text-anchor="middle" font-weight="normal" font-style="normal" fill="#1a1a1a">7579000</text>
<polyline points="106.40,818.70 106.40,821.70 108.60,827.70 108.60,832.30" fill="none" stroke="#D0D0D0" stroke-width="1.3" stroke-linejoin="round"/>
<polyline points="114.80,818.70 114.80,821.70 112.00,827.70 112.00,832.30" fill="none" stroke="#D0D0D0" stroke-width="1.3" stroke-linejoin="round"/>
<circle cx="106.40" cy="818.70" r="2.8" fill="#C8C8C8"/>
<circle cx="114.80" cy="818.70" r="2.8" fill="#C8C8C8"/>
<circle cx="148.60" cy="818.9" r="2.9" fill="#E21B23"/>
<circle cx="151.30" cy="818.9" r="3.0" fill="#C9C9C9"/>
<circle cx="193.60" cy="818.9" r="2.9" fill="#E21B23"/>
<circle cx="196.30" cy="818.9" r="3.0" fill="#C9C9C9"/>
<circle cx="304.10" cy="818.9" r="2.9" fill="#E21B23"/>
<circle cx="306.80" cy="818.9" r="3.0" fill="#C9C9C9"/>
<circle cx="645.6" cy="818.9" r="2.9" fill="#E21B23"/>
<circle cx="649.6" cy="818.9" r="2.9" fill="#C9C9C9"/>
<circle cx="274" cy="903.7" r="6" fill="#C8C8C8"/>
<text x="291.60" y="908.70" font-size="15.4" text-anchor="start" font-weight="normal" font-style="normal" fill="#1a1a1a">TCGA</text>
<circle cx="362" cy="903.7" r="6.2" fill="#E31A22"/>
<text x="380.30" y="908.70" font-size="15.4" text-anchor="start" font-weight="normal" font-style="normal" fill="#1a1a1a">UM</text>
</svg>
</body></html>
